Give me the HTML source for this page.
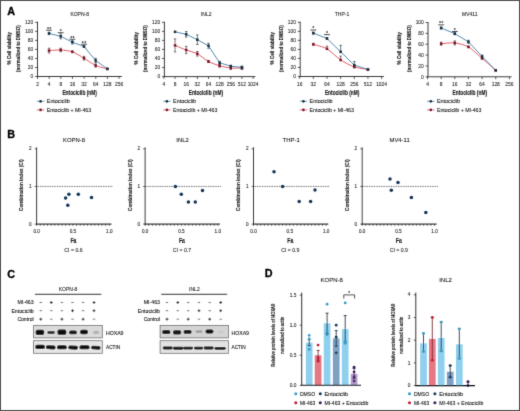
<!DOCTYPE html>
<html><head><meta charset="utf-8"><style>
html,body{margin:0;padding:0;background:#fff;}
body{width:520px;height:411px;overflow:hidden;}
svg{display:block;font-family:"Liberation Sans", sans-serif;}
</style></head><body>
<svg width="520" height="411" viewBox="0 0 520 411">
<defs><filter id="gb" x="0" y="0" width="520" height="411" filterUnits="userSpaceOnUse"><feConvolveMatrix order="3" kernelMatrix="0.0113 0.0838 0.0113 0.0838 0.6193 0.0838 0.0113 0.0838 0.0113" edgeMode="duplicate"/></filter></defs>
<rect width="520" height="411" fill="#fff"/>
<g filter="url(#gb)">
<text x="7.2" y="14.9" font-size="10.8" font-weight="bold" fill="#000" stroke="#000" stroke-width="0.3">A</text>
<text x="7.3" y="137.6" font-size="10.8" font-weight="bold" fill="#000" stroke="#000" stroke-width="0.3">B</text>
<text x="7.3" y="277.5" font-size="10.8" font-weight="bold" fill="#000" stroke="#000" stroke-width="0.3">C</text>
<text x="264.7" y="277.2" font-size="10.8" font-weight="bold" fill="#000" stroke="#000" stroke-width="0.3">D</text>
<line x1="37.5" y1="21.8" x2="37.5" y2="76.9" stroke="#1a1a1a" stroke-width="0.85" stroke-linecap="butt"/>
<line x1="35.1" y1="76.5" x2="37.5" y2="76.5" stroke="#1a1a1a" stroke-width="0.7" stroke-linecap="butt"/>
<text x="33.3" y="78.22" font-size="4.9" text-anchor="end" font-weight="normal" fill="#3a3a3a" stroke="#3a3a3a" stroke-width="0.12">0</text>
<line x1="35.1" y1="67.47" x2="37.5" y2="67.47" stroke="#1a1a1a" stroke-width="0.7" stroke-linecap="butt"/>
<text x="33.3" y="69.18" font-size="4.9" text-anchor="end" font-weight="normal" fill="#3a3a3a" stroke="#3a3a3a" stroke-width="0.12">20</text>
<line x1="35.1" y1="58.43" x2="37.5" y2="58.43" stroke="#1a1a1a" stroke-width="0.7" stroke-linecap="butt"/>
<text x="33.3" y="60.15" font-size="4.9" text-anchor="end" font-weight="normal" fill="#3a3a3a" stroke="#3a3a3a" stroke-width="0.12">40</text>
<line x1="35.1" y1="49.4" x2="37.5" y2="49.4" stroke="#1a1a1a" stroke-width="0.7" stroke-linecap="butt"/>
<text x="33.3" y="51.12" font-size="4.9" text-anchor="end" font-weight="normal" fill="#3a3a3a" stroke="#3a3a3a" stroke-width="0.12">60</text>
<line x1="35.1" y1="40.37" x2="37.5" y2="40.37" stroke="#1a1a1a" stroke-width="0.7" stroke-linecap="butt"/>
<text x="33.3" y="42.08" font-size="4.9" text-anchor="end" font-weight="normal" fill="#3a3a3a" stroke="#3a3a3a" stroke-width="0.12">80</text>
<line x1="35.1" y1="31.33" x2="37.5" y2="31.33" stroke="#1a1a1a" stroke-width="0.7" stroke-linecap="butt"/>
<text x="33.3" y="33.05" font-size="4.9" text-anchor="end" font-weight="normal" fill="#3a3a3a" stroke="#3a3a3a" stroke-width="0.12">100</text>
<line x1="35.1" y1="22.3" x2="37.5" y2="22.3" stroke="#1a1a1a" stroke-width="0.7" stroke-linecap="butt"/>
<text x="33.3" y="24.01" font-size="4.9" text-anchor="end" font-weight="normal" fill="#3a3a3a" stroke="#3a3a3a" stroke-width="0.12">120</text>
<line x1="37.1" y1="76.5" x2="121.8" y2="76.5" stroke="#1a1a1a" stroke-width="0.85" stroke-linecap="butt"/>
<line x1="37.5" y1="76.5" x2="37.5" y2="78.9" stroke="#1a1a1a" stroke-width="0.7" stroke-linecap="butt"/>
<text x="37.5" y="85.81" font-size="4.9" text-anchor="middle" font-weight="normal" fill="#333" stroke="#333" stroke-width="0.12">2</text>
<line x1="49.15" y1="76.5" x2="49.15" y2="78.9" stroke="#1a1a1a" stroke-width="0.7" stroke-linecap="butt"/>
<text x="49.15" y="85.81" font-size="4.9" text-anchor="middle" font-weight="normal" fill="#333" stroke="#333" stroke-width="0.12">4</text>
<line x1="60.8" y1="76.5" x2="60.8" y2="78.9" stroke="#1a1a1a" stroke-width="0.7" stroke-linecap="butt"/>
<text x="60.8" y="85.81" font-size="4.9" text-anchor="middle" font-weight="normal" fill="#333" stroke="#333" stroke-width="0.12">8</text>
<line x1="72.45" y1="76.5" x2="72.45" y2="78.9" stroke="#1a1a1a" stroke-width="0.7" stroke-linecap="butt"/>
<text x="72.45" y="85.81" font-size="4.9" text-anchor="middle" font-weight="normal" fill="#333" stroke="#333" stroke-width="0.12">16</text>
<line x1="84.1" y1="76.5" x2="84.1" y2="78.9" stroke="#1a1a1a" stroke-width="0.7" stroke-linecap="butt"/>
<text x="84.1" y="85.81" font-size="4.9" text-anchor="middle" font-weight="normal" fill="#333" stroke="#333" stroke-width="0.12">32</text>
<line x1="95.75" y1="76.5" x2="95.75" y2="78.9" stroke="#1a1a1a" stroke-width="0.7" stroke-linecap="butt"/>
<text x="95.75" y="85.81" font-size="4.9" text-anchor="middle" font-weight="normal" fill="#333" stroke="#333" stroke-width="0.12">64</text>
<line x1="107.4" y1="76.5" x2="107.4" y2="78.9" stroke="#1a1a1a" stroke-width="0.7" stroke-linecap="butt"/>
<text x="107.4" y="85.81" font-size="4.9" text-anchor="middle" font-weight="normal" fill="#333" stroke="#333" stroke-width="0.12">128</text>
<line x1="119.05" y1="76.5" x2="119.05" y2="78.9" stroke="#1a1a1a" stroke-width="0.7" stroke-linecap="butt"/>
<text x="119.05" y="85.81" font-size="4.9" text-anchor="middle" font-weight="normal" fill="#333" stroke="#333" stroke-width="0.12">256</text>
<path d="M49.05,50.6 C50.41,50.53 57.98,49.86 60.7,50 C63.42,50.14 69.63,50.84 72.35,51.8 C75.07,52.76 81.28,56.6 84,58.2 C86.72,59.8 92.93,64.25 95.65,65.5 C98.37,66.75 105.94,68.5 107.3,68.9" fill="none" stroke="#d53e4c" stroke-width="0.85" stroke-linejoin="round"/>
<line x1="49.05" y1="48.2" x2="49.05" y2="50.6" stroke="#4a2a2e" stroke-width="0.65" stroke-linecap="butt"/>
<line x1="47.85" y1="48.2" x2="50.25" y2="48.2" stroke="#4a2a2e" stroke-width="0.65" stroke-linecap="butt"/>
<line x1="49.05" y1="50.6" x2="49.05" y2="53" stroke="#4a2a2e" stroke-width="0.65" stroke-linecap="butt"/>
<line x1="47.85" y1="53" x2="50.25" y2="53" stroke="#4a2a2e" stroke-width="0.65" stroke-linecap="butt"/>
<rect x="47.8" y="49.35" width="2.5" height="2.5" fill="#7e1726" stroke="none" stroke-width="0" rx="0"/>
<line x1="60.7" y1="48.3" x2="60.7" y2="50" stroke="#4a2a2e" stroke-width="0.65" stroke-linecap="butt"/>
<line x1="59.5" y1="48.3" x2="61.9" y2="48.3" stroke="#4a2a2e" stroke-width="0.65" stroke-linecap="butt"/>
<line x1="60.7" y1="50" x2="60.7" y2="51.7" stroke="#4a2a2e" stroke-width="0.65" stroke-linecap="butt"/>
<line x1="59.5" y1="51.7" x2="61.9" y2="51.7" stroke="#4a2a2e" stroke-width="0.65" stroke-linecap="butt"/>
<rect x="59.45" y="48.75" width="2.5" height="2.5" fill="#7e1726" stroke="none" stroke-width="0" rx="0"/>
<line x1="72.35" y1="51" x2="72.35" y2="51.8" stroke="#4a2a2e" stroke-width="0.65" stroke-linecap="butt"/>
<line x1="71.15" y1="51" x2="73.55" y2="51" stroke="#4a2a2e" stroke-width="0.65" stroke-linecap="butt"/>
<line x1="72.35" y1="51.8" x2="72.35" y2="52.6" stroke="#4a2a2e" stroke-width="0.65" stroke-linecap="butt"/>
<line x1="71.15" y1="52.6" x2="73.55" y2="52.6" stroke="#4a2a2e" stroke-width="0.65" stroke-linecap="butt"/>
<rect x="71.1" y="50.55" width="2.5" height="2.5" fill="#7e1726" stroke="none" stroke-width="0" rx="0"/>
<line x1="84" y1="56.4" x2="84" y2="58.2" stroke="#4a2a2e" stroke-width="0.65" stroke-linecap="butt"/>
<line x1="82.8" y1="56.4" x2="85.2" y2="56.4" stroke="#4a2a2e" stroke-width="0.65" stroke-linecap="butt"/>
<line x1="84" y1="58.2" x2="84" y2="60" stroke="#4a2a2e" stroke-width="0.65" stroke-linecap="butt"/>
<line x1="82.8" y1="60" x2="85.2" y2="60" stroke="#4a2a2e" stroke-width="0.65" stroke-linecap="butt"/>
<rect x="82.75" y="56.95" width="2.5" height="2.5" fill="#7e1726" stroke="none" stroke-width="0" rx="0"/>
<line x1="95.65" y1="63.9" x2="95.65" y2="65.5" stroke="#4a2a2e" stroke-width="0.65" stroke-linecap="butt"/>
<line x1="94.45" y1="63.9" x2="96.85" y2="63.9" stroke="#4a2a2e" stroke-width="0.65" stroke-linecap="butt"/>
<line x1="95.65" y1="65.5" x2="95.65" y2="67.1" stroke="#4a2a2e" stroke-width="0.65" stroke-linecap="butt"/>
<line x1="94.45" y1="67.1" x2="96.85" y2="67.1" stroke="#4a2a2e" stroke-width="0.65" stroke-linecap="butt"/>
<rect x="94.4" y="64.25" width="2.5" height="2.5" fill="#7e1726" stroke="none" stroke-width="0" rx="0"/>
<rect x="106.05" y="67.65" width="2.5" height="2.5" fill="#7e1726" stroke="none" stroke-width="0" rx="0"/>
<polyline points="49.05,33.4 60.7,36.3 72.35,42.2 84,46.5 95.65,60.5 107.3,68.9" fill="none" stroke="#3878a4" stroke-width="0.85" stroke-linejoin="round"/>
<line x1="49.05" y1="32.2" x2="49.05" y2="33.4" stroke="#26333d" stroke-width="0.65" stroke-linecap="butt"/>
<line x1="47.85" y1="32.2" x2="50.25" y2="32.2" stroke="#26333d" stroke-width="0.65" stroke-linecap="butt"/>
<line x1="49.05" y1="33.4" x2="49.05" y2="34.6" stroke="#26333d" stroke-width="0.65" stroke-linecap="butt"/>
<line x1="47.85" y1="34.6" x2="50.25" y2="34.6" stroke="#26333d" stroke-width="0.65" stroke-linecap="butt"/>
<rect x="47.8" y="32.15" width="2.5" height="2.5" fill="#172f40" stroke="none" stroke-width="0" rx="0"/>
<line x1="60.7" y1="33.8" x2="60.7" y2="36.3" stroke="#26333d" stroke-width="0.65" stroke-linecap="butt"/>
<line x1="59.5" y1="33.8" x2="61.9" y2="33.8" stroke="#26333d" stroke-width="0.65" stroke-linecap="butt"/>
<line x1="60.7" y1="36.3" x2="60.7" y2="38.8" stroke="#26333d" stroke-width="0.65" stroke-linecap="butt"/>
<line x1="59.5" y1="38.8" x2="61.9" y2="38.8" stroke="#26333d" stroke-width="0.65" stroke-linecap="butt"/>
<rect x="59.45" y="35.05" width="2.5" height="2.5" fill="#172f40" stroke="none" stroke-width="0" rx="0"/>
<line x1="72.35" y1="40.4" x2="72.35" y2="42.2" stroke="#26333d" stroke-width="0.65" stroke-linecap="butt"/>
<line x1="71.15" y1="40.4" x2="73.55" y2="40.4" stroke="#26333d" stroke-width="0.65" stroke-linecap="butt"/>
<line x1="72.35" y1="42.2" x2="72.35" y2="44" stroke="#26333d" stroke-width="0.65" stroke-linecap="butt"/>
<line x1="71.15" y1="44" x2="73.55" y2="44" stroke="#26333d" stroke-width="0.65" stroke-linecap="butt"/>
<rect x="71.1" y="40.95" width="2.5" height="2.5" fill="#172f40" stroke="none" stroke-width="0" rx="0"/>
<line x1="84" y1="45.7" x2="84" y2="46.5" stroke="#26333d" stroke-width="0.65" stroke-linecap="butt"/>
<line x1="82.8" y1="45.7" x2="85.2" y2="45.7" stroke="#26333d" stroke-width="0.65" stroke-linecap="butt"/>
<line x1="84" y1="46.5" x2="84" y2="47.3" stroke="#26333d" stroke-width="0.65" stroke-linecap="butt"/>
<line x1="82.8" y1="47.3" x2="85.2" y2="47.3" stroke="#26333d" stroke-width="0.65" stroke-linecap="butt"/>
<rect x="82.75" y="45.25" width="2.5" height="2.5" fill="#172f40" stroke="none" stroke-width="0" rx="0"/>
<line x1="95.65" y1="58.3" x2="95.65" y2="60.5" stroke="#26333d" stroke-width="0.65" stroke-linecap="butt"/>
<line x1="94.45" y1="58.3" x2="96.85" y2="58.3" stroke="#26333d" stroke-width="0.65" stroke-linecap="butt"/>
<line x1="95.65" y1="60.5" x2="95.65" y2="62.7" stroke="#26333d" stroke-width="0.65" stroke-linecap="butt"/>
<line x1="94.45" y1="62.7" x2="96.85" y2="62.7" stroke="#26333d" stroke-width="0.65" stroke-linecap="butt"/>
<rect x="94.4" y="59.25" width="2.5" height="2.5" fill="#172f40" stroke="none" stroke-width="0" rx="0"/>
<rect x="106.05" y="67.65" width="2.5" height="2.5" fill="#172f40" stroke="none" stroke-width="0" rx="0"/>
<line x1="46.15" y1="30.2" x2="51.95" y2="30.2" stroke="#1a1a1a" stroke-width="0.8" stroke-linecap="butt"/>
<text x="47.9" y="30.6" font-size="5.2" font-weight="bold" text-anchor="middle" fill="#1a1a1a">*</text>
<text x="50.2" y="30.6" font-size="5.2" font-weight="bold" text-anchor="middle" fill="#1a1a1a">*</text>
<line x1="57.8" y1="32.7" x2="63.6" y2="32.7" stroke="#1a1a1a" stroke-width="0.8" stroke-linecap="butt"/>
<text x="60.7" y="32.9" font-size="5.2" font-weight="bold" text-anchor="middle" fill="#1a1a1a">*</text>
<line x1="69.45" y1="39.2" x2="75.25" y2="39.2" stroke="#1a1a1a" stroke-width="0.8" stroke-linecap="butt"/>
<text x="71.2" y="40.1" font-size="5.2" font-weight="bold" text-anchor="middle" fill="#1a1a1a">*</text>
<text x="73.5" y="40.1" font-size="5.2" font-weight="bold" text-anchor="middle" fill="#1a1a1a">*</text>
<line x1="81.1" y1="44.2" x2="86.9" y2="44.2" stroke="#1a1a1a" stroke-width="0.8" stroke-linecap="butt"/>
<text x="82.85" y="45.2" font-size="5.2" font-weight="bold" text-anchor="middle" fill="#1a1a1a">*</text>
<text x="85.15" y="45.2" font-size="5.2" font-weight="bold" text-anchor="middle" fill="#1a1a1a">*</text>
<text x="79.7" y="16.25" font-size="5" text-anchor="middle" font-weight="normal" fill="#333" stroke="#333" stroke-width="0.12">KOPN-8</text>
<text x="79.6" y="95.19" font-size="7.4" text-anchor="middle" font-weight="bold" fill="#1e1e1e" textLength="34.4" lengthAdjust="spacingAndGlyphs" stroke="#1e1e1e" stroke-width="0.2">Entociclib (nM)</text>
<text transform="translate(10.89 48.3) rotate(-90)" x="0" y="0" font-size="5.7" text-anchor="middle" font-weight="bold" fill="#1e1e1e" textLength="32.4" lengthAdjust="spacingAndGlyphs" stroke="#1e1e1e" stroke-width="0.15">% Cell viability</text>
<text transform="translate(20.2 48.6) rotate(-90)" x="0" y="0" font-size="5.7" text-anchor="middle" font-weight="bold" fill="#1e1e1e" textLength="46.8" lengthAdjust="spacingAndGlyphs" stroke="#1e1e1e" stroke-width="0.15">(normalized to DMSO)</text>
<line x1="36.8" y1="101.3" x2="44.4" y2="101.3" stroke="#3878a4" stroke-width="0.7" stroke-linecap="butt"/>
<circle cx="40.6" cy="101.3" r="1.35" fill="#172f40" stroke="none" stroke-width="0"/>
<text x="46.8" y="103.16" font-size="5.3" text-anchor="start" font-weight="normal" fill="#262626" textLength="23" lengthAdjust="spacingAndGlyphs" stroke="#262626" stroke-width="0.12">Entociclib</text>
<line x1="36.8" y1="109.9" x2="44.4" y2="109.9" stroke="#d53e4c" stroke-width="0.7" stroke-linecap="butt"/>
<circle cx="40.6" cy="109.9" r="1.35" fill="#7e1726" stroke="none" stroke-width="0"/>
<text x="46.8" y="111.75" font-size="5.3" text-anchor="start" font-weight="normal" fill="#262626" textLength="44.3" lengthAdjust="spacingAndGlyphs" stroke="#262626" stroke-width="0.12">Entociclib + MI-463</text>
<line x1="164.4" y1="21.8" x2="164.4" y2="77" stroke="#1a1a1a" stroke-width="0.85" stroke-linecap="butt"/>
<line x1="162" y1="76.6" x2="164.4" y2="76.6" stroke="#1a1a1a" stroke-width="0.7" stroke-linecap="butt"/>
<text x="160.2" y="78.31" font-size="4.9" text-anchor="end" font-weight="normal" fill="#3a3a3a" stroke="#3a3a3a" stroke-width="0.12">0</text>
<line x1="162" y1="67.55" x2="164.4" y2="67.55" stroke="#1a1a1a" stroke-width="0.7" stroke-linecap="butt"/>
<text x="160.2" y="69.27" font-size="4.9" text-anchor="end" font-weight="normal" fill="#3a3a3a" stroke="#3a3a3a" stroke-width="0.12">20</text>
<line x1="162" y1="58.5" x2="164.4" y2="58.5" stroke="#1a1a1a" stroke-width="0.7" stroke-linecap="butt"/>
<text x="160.2" y="60.22" font-size="4.9" text-anchor="end" font-weight="normal" fill="#3a3a3a" stroke="#3a3a3a" stroke-width="0.12">40</text>
<line x1="162" y1="49.45" x2="164.4" y2="49.45" stroke="#1a1a1a" stroke-width="0.7" stroke-linecap="butt"/>
<text x="160.2" y="51.16" font-size="4.9" text-anchor="end" font-weight="normal" fill="#3a3a3a" stroke="#3a3a3a" stroke-width="0.12">60</text>
<line x1="162" y1="40.4" x2="164.4" y2="40.4" stroke="#1a1a1a" stroke-width="0.7" stroke-linecap="butt"/>
<text x="160.2" y="42.12" font-size="4.9" text-anchor="end" font-weight="normal" fill="#3a3a3a" stroke="#3a3a3a" stroke-width="0.12">80</text>
<line x1="162" y1="31.35" x2="164.4" y2="31.35" stroke="#1a1a1a" stroke-width="0.7" stroke-linecap="butt"/>
<text x="160.2" y="33.07" font-size="4.9" text-anchor="end" font-weight="normal" fill="#3a3a3a" stroke="#3a3a3a" stroke-width="0.12">100</text>
<line x1="162" y1="22.3" x2="164.4" y2="22.3" stroke="#1a1a1a" stroke-width="0.7" stroke-linecap="butt"/>
<text x="160.2" y="24.01" font-size="4.9" text-anchor="end" font-weight="normal" fill="#3a3a3a" stroke="#3a3a3a" stroke-width="0.12">120</text>
<line x1="164" y1="76.6" x2="255.3" y2="76.6" stroke="#1a1a1a" stroke-width="0.85" stroke-linecap="butt"/>
<line x1="163.9" y1="76.6" x2="163.9" y2="79" stroke="#1a1a1a" stroke-width="0.7" stroke-linecap="butt"/>
<text x="163.9" y="85.91" font-size="4.9" text-anchor="middle" font-weight="normal" fill="#333" stroke="#333" stroke-width="0.12">4</text>
<line x1="175.05" y1="76.6" x2="175.05" y2="79" stroke="#1a1a1a" stroke-width="0.7" stroke-linecap="butt"/>
<text x="175.05" y="85.91" font-size="4.9" text-anchor="middle" font-weight="normal" fill="#333" stroke="#333" stroke-width="0.12">8</text>
<line x1="186.2" y1="76.6" x2="186.2" y2="79" stroke="#1a1a1a" stroke-width="0.7" stroke-linecap="butt"/>
<text x="186.2" y="85.91" font-size="4.9" text-anchor="middle" font-weight="normal" fill="#333" stroke="#333" stroke-width="0.12">16</text>
<line x1="197.35" y1="76.6" x2="197.35" y2="79" stroke="#1a1a1a" stroke-width="0.7" stroke-linecap="butt"/>
<text x="197.35" y="85.91" font-size="4.9" text-anchor="middle" font-weight="normal" fill="#333" stroke="#333" stroke-width="0.12">32</text>
<line x1="208.5" y1="76.6" x2="208.5" y2="79" stroke="#1a1a1a" stroke-width="0.7" stroke-linecap="butt"/>
<text x="208.5" y="85.91" font-size="4.9" text-anchor="middle" font-weight="normal" fill="#333" stroke="#333" stroke-width="0.12">64</text>
<line x1="219.65" y1="76.6" x2="219.65" y2="79" stroke="#1a1a1a" stroke-width="0.7" stroke-linecap="butt"/>
<text x="219.65" y="85.91" font-size="4.9" text-anchor="middle" font-weight="normal" fill="#333" stroke="#333" stroke-width="0.12">128</text>
<line x1="230.8" y1="76.6" x2="230.8" y2="79" stroke="#1a1a1a" stroke-width="0.7" stroke-linecap="butt"/>
<text x="230.8" y="85.91" font-size="4.9" text-anchor="middle" font-weight="normal" fill="#333" stroke="#333" stroke-width="0.12">256</text>
<line x1="241.95" y1="76.6" x2="241.95" y2="79" stroke="#1a1a1a" stroke-width="0.7" stroke-linecap="butt"/>
<text x="241.95" y="85.91" font-size="4.9" text-anchor="middle" font-weight="normal" fill="#333" stroke="#333" stroke-width="0.12">512</text>
<line x1="253.1" y1="76.6" x2="253.1" y2="79" stroke="#1a1a1a" stroke-width="0.7" stroke-linecap="butt"/>
<text x="253.1" y="85.91" font-size="4.9" text-anchor="middle" font-weight="normal" fill="#333" stroke="#333" stroke-width="0.12">1024</text>
<path d="M175.05,45.4 C176.35,45.94 183.6,49.02 186.2,50 C188.8,50.98 194.75,52.46 197.35,53.8 C199.95,55.14 205.9,60.1 208.5,61.5 C211.1,62.9 217.05,65.04 219.65,65.8 C222.25,66.56 228.2,67.74 230.8,68 C233.4,68.26 240.65,68 241.95,68" fill="none" stroke="#d53e4c" stroke-width="0.85" stroke-linejoin="round"/>
<line x1="175.05" y1="38.9" x2="175.05" y2="45.4" stroke="#4a2a2e" stroke-width="0.65" stroke-linecap="butt"/>
<line x1="173.85" y1="38.9" x2="176.25" y2="38.9" stroke="#4a2a2e" stroke-width="0.65" stroke-linecap="butt"/>
<line x1="175.05" y1="45.4" x2="175.05" y2="51.9" stroke="#4a2a2e" stroke-width="0.65" stroke-linecap="butt"/>
<line x1="173.85" y1="51.9" x2="176.25" y2="51.9" stroke="#4a2a2e" stroke-width="0.65" stroke-linecap="butt"/>
<rect x="173.8" y="44.15" width="2.5" height="2.5" fill="#7e1726" stroke="none" stroke-width="0" rx="0"/>
<line x1="186.2" y1="46.4" x2="186.2" y2="50" stroke="#4a2a2e" stroke-width="0.65" stroke-linecap="butt"/>
<line x1="185" y1="46.4" x2="187.4" y2="46.4" stroke="#4a2a2e" stroke-width="0.65" stroke-linecap="butt"/>
<line x1="186.2" y1="50" x2="186.2" y2="53.6" stroke="#4a2a2e" stroke-width="0.65" stroke-linecap="butt"/>
<line x1="185" y1="53.6" x2="187.4" y2="53.6" stroke="#4a2a2e" stroke-width="0.65" stroke-linecap="butt"/>
<rect x="184.95" y="48.75" width="2.5" height="2.5" fill="#7e1726" stroke="none" stroke-width="0" rx="0"/>
<line x1="197.35" y1="51.5" x2="197.35" y2="53.8" stroke="#4a2a2e" stroke-width="0.65" stroke-linecap="butt"/>
<line x1="196.15" y1="51.5" x2="198.55" y2="51.5" stroke="#4a2a2e" stroke-width="0.65" stroke-linecap="butt"/>
<line x1="197.35" y1="53.8" x2="197.35" y2="56.1" stroke="#4a2a2e" stroke-width="0.65" stroke-linecap="butt"/>
<line x1="196.15" y1="56.1" x2="198.55" y2="56.1" stroke="#4a2a2e" stroke-width="0.65" stroke-linecap="butt"/>
<rect x="196.1" y="52.55" width="2.5" height="2.5" fill="#7e1726" stroke="none" stroke-width="0" rx="0"/>
<line x1="208.5" y1="60.5" x2="208.5" y2="61.5" stroke="#4a2a2e" stroke-width="0.65" stroke-linecap="butt"/>
<line x1="207.3" y1="60.5" x2="209.7" y2="60.5" stroke="#4a2a2e" stroke-width="0.65" stroke-linecap="butt"/>
<line x1="208.5" y1="61.5" x2="208.5" y2="62.5" stroke="#4a2a2e" stroke-width="0.65" stroke-linecap="butt"/>
<line x1="207.3" y1="62.5" x2="209.7" y2="62.5" stroke="#4a2a2e" stroke-width="0.65" stroke-linecap="butt"/>
<rect x="207.25" y="60.25" width="2.5" height="2.5" fill="#7e1726" stroke="none" stroke-width="0" rx="0"/>
<line x1="219.65" y1="64.4" x2="219.65" y2="65.8" stroke="#4a2a2e" stroke-width="0.65" stroke-linecap="butt"/>
<line x1="218.45" y1="64.4" x2="220.85" y2="64.4" stroke="#4a2a2e" stroke-width="0.65" stroke-linecap="butt"/>
<line x1="219.65" y1="65.8" x2="219.65" y2="67.2" stroke="#4a2a2e" stroke-width="0.65" stroke-linecap="butt"/>
<line x1="218.45" y1="67.2" x2="220.85" y2="67.2" stroke="#4a2a2e" stroke-width="0.65" stroke-linecap="butt"/>
<rect x="218.4" y="64.55" width="2.5" height="2.5" fill="#7e1726" stroke="none" stroke-width="0" rx="0"/>
<line x1="230.8" y1="66.6" x2="230.8" y2="68" stroke="#4a2a2e" stroke-width="0.65" stroke-linecap="butt"/>
<line x1="229.6" y1="66.6" x2="232" y2="66.6" stroke="#4a2a2e" stroke-width="0.65" stroke-linecap="butt"/>
<line x1="230.8" y1="68" x2="230.8" y2="69.4" stroke="#4a2a2e" stroke-width="0.65" stroke-linecap="butt"/>
<line x1="229.6" y1="69.4" x2="232" y2="69.4" stroke="#4a2a2e" stroke-width="0.65" stroke-linecap="butt"/>
<rect x="229.55" y="66.75" width="2.5" height="2.5" fill="#7e1726" stroke="none" stroke-width="0" rx="0"/>
<line x1="241.95" y1="66.6" x2="241.95" y2="68" stroke="#4a2a2e" stroke-width="0.65" stroke-linecap="butt"/>
<line x1="240.75" y1="66.6" x2="243.15" y2="66.6" stroke="#4a2a2e" stroke-width="0.65" stroke-linecap="butt"/>
<line x1="241.95" y1="68" x2="241.95" y2="69.4" stroke="#4a2a2e" stroke-width="0.65" stroke-linecap="butt"/>
<line x1="240.75" y1="69.4" x2="243.15" y2="69.4" stroke="#4a2a2e" stroke-width="0.65" stroke-linecap="butt"/>
<rect x="240.7" y="66.75" width="2.5" height="2.5" fill="#7e1726" stroke="none" stroke-width="0" rx="0"/>
<polyline points="175.05,31.8 186.2,34.3 197.35,39.7 208.5,45.8 219.65,62.8 230.8,66.2 241.95,67.4" fill="none" stroke="#3878a4" stroke-width="0.85" stroke-linejoin="round"/>
<rect x="173.8" y="30.55" width="2.5" height="2.5" fill="#172f40" stroke="none" stroke-width="0" rx="0"/>
<line x1="186.2" y1="31.5" x2="186.2" y2="34.3" stroke="#26333d" stroke-width="0.65" stroke-linecap="butt"/>
<line x1="185" y1="31.5" x2="187.4" y2="31.5" stroke="#26333d" stroke-width="0.65" stroke-linecap="butt"/>
<line x1="186.2" y1="34.3" x2="186.2" y2="37.1" stroke="#26333d" stroke-width="0.65" stroke-linecap="butt"/>
<line x1="185" y1="37.1" x2="187.4" y2="37.1" stroke="#26333d" stroke-width="0.65" stroke-linecap="butt"/>
<rect x="184.95" y="33.05" width="2.5" height="2.5" fill="#172f40" stroke="none" stroke-width="0" rx="0"/>
<line x1="197.35" y1="34.9" x2="197.35" y2="39.7" stroke="#26333d" stroke-width="0.65" stroke-linecap="butt"/>
<line x1="196.15" y1="34.9" x2="198.55" y2="34.9" stroke="#26333d" stroke-width="0.65" stroke-linecap="butt"/>
<line x1="197.35" y1="39.7" x2="197.35" y2="44.5" stroke="#26333d" stroke-width="0.65" stroke-linecap="butt"/>
<line x1="196.15" y1="44.5" x2="198.55" y2="44.5" stroke="#26333d" stroke-width="0.65" stroke-linecap="butt"/>
<rect x="196.1" y="38.45" width="2.5" height="2.5" fill="#172f40" stroke="none" stroke-width="0" rx="0"/>
<line x1="208.5" y1="43.3" x2="208.5" y2="45.8" stroke="#26333d" stroke-width="0.65" stroke-linecap="butt"/>
<line x1="207.3" y1="43.3" x2="209.7" y2="43.3" stroke="#26333d" stroke-width="0.65" stroke-linecap="butt"/>
<line x1="208.5" y1="45.8" x2="208.5" y2="48.3" stroke="#26333d" stroke-width="0.65" stroke-linecap="butt"/>
<line x1="207.3" y1="48.3" x2="209.7" y2="48.3" stroke="#26333d" stroke-width="0.65" stroke-linecap="butt"/>
<rect x="207.25" y="44.55" width="2.5" height="2.5" fill="#172f40" stroke="none" stroke-width="0" rx="0"/>
<line x1="219.65" y1="61.3" x2="219.65" y2="62.8" stroke="#26333d" stroke-width="0.65" stroke-linecap="butt"/>
<line x1="218.45" y1="61.3" x2="220.85" y2="61.3" stroke="#26333d" stroke-width="0.65" stroke-linecap="butt"/>
<line x1="219.65" y1="62.8" x2="219.65" y2="64.3" stroke="#26333d" stroke-width="0.65" stroke-linecap="butt"/>
<line x1="218.45" y1="64.3" x2="220.85" y2="64.3" stroke="#26333d" stroke-width="0.65" stroke-linecap="butt"/>
<rect x="218.4" y="61.55" width="2.5" height="2.5" fill="#172f40" stroke="none" stroke-width="0" rx="0"/>
<line x1="230.8" y1="65.2" x2="230.8" y2="66.2" stroke="#26333d" stroke-width="0.65" stroke-linecap="butt"/>
<line x1="229.6" y1="65.2" x2="232" y2="65.2" stroke="#26333d" stroke-width="0.65" stroke-linecap="butt"/>
<line x1="230.8" y1="66.2" x2="230.8" y2="67.2" stroke="#26333d" stroke-width="0.65" stroke-linecap="butt"/>
<line x1="229.6" y1="67.2" x2="232" y2="67.2" stroke="#26333d" stroke-width="0.65" stroke-linecap="butt"/>
<rect x="229.55" y="64.95" width="2.5" height="2.5" fill="#172f40" stroke="none" stroke-width="0" rx="0"/>
<line x1="241.95" y1="66.1" x2="241.95" y2="67.4" stroke="#26333d" stroke-width="0.65" stroke-linecap="butt"/>
<line x1="240.75" y1="66.1" x2="243.15" y2="66.1" stroke="#26333d" stroke-width="0.65" stroke-linecap="butt"/>
<line x1="241.95" y1="67.4" x2="241.95" y2="68.7" stroke="#26333d" stroke-width="0.65" stroke-linecap="butt"/>
<line x1="240.75" y1="68.7" x2="243.15" y2="68.7" stroke="#26333d" stroke-width="0.65" stroke-linecap="butt"/>
<rect x="240.7" y="66.15" width="2.5" height="2.5" fill="#172f40" stroke="none" stroke-width="0" rx="0"/>
<text x="206.2" y="16.25" font-size="5" text-anchor="middle" font-weight="normal" fill="#333" stroke="#333" stroke-width="0.12">INL2</text>
<text x="205.9" y="95.19" font-size="7.4" text-anchor="middle" font-weight="bold" fill="#1e1e1e" textLength="34.4" lengthAdjust="spacingAndGlyphs" stroke="#1e1e1e" stroke-width="0.2">Entociclib (nM)</text>
<text transform="translate(137.8 48.3) rotate(-90)" x="0" y="0" font-size="5.7" text-anchor="middle" font-weight="bold" fill="#1e1e1e" textLength="32.4" lengthAdjust="spacingAndGlyphs" stroke="#1e1e1e" stroke-width="0.15">% Cell viability</text>
<text transform="translate(147.09 48.6) rotate(-90)" x="0" y="0" font-size="5.7" text-anchor="middle" font-weight="bold" fill="#1e1e1e" textLength="46.8" lengthAdjust="spacingAndGlyphs" stroke="#1e1e1e" stroke-width="0.15">(normalized to DMSO)</text>
<line x1="163.1" y1="101.3" x2="170.7" y2="101.3" stroke="#3878a4" stroke-width="0.7" stroke-linecap="butt"/>
<circle cx="166.9" cy="101.3" r="1.35" fill="#172f40" stroke="none" stroke-width="0"/>
<text x="173.1" y="103.16" font-size="5.3" text-anchor="start" font-weight="normal" fill="#262626" textLength="23" lengthAdjust="spacingAndGlyphs" stroke="#262626" stroke-width="0.12">Entociclib</text>
<line x1="163.1" y1="109.9" x2="170.7" y2="109.9" stroke="#d53e4c" stroke-width="0.7" stroke-linecap="butt"/>
<circle cx="166.9" cy="109.9" r="1.35" fill="#7e1726" stroke="none" stroke-width="0"/>
<text x="173.1" y="111.75" font-size="5.3" text-anchor="start" font-weight="normal" fill="#262626" textLength="44.3" lengthAdjust="spacingAndGlyphs" stroke="#262626" stroke-width="0.12">Entociclib + MI-463</text>
<line x1="300.2" y1="21.8" x2="300.2" y2="76.9" stroke="#1a1a1a" stroke-width="0.85" stroke-linecap="butt"/>
<line x1="297.8" y1="76.5" x2="300.2" y2="76.5" stroke="#1a1a1a" stroke-width="0.7" stroke-linecap="butt"/>
<text x="296" y="78.22" font-size="4.9" text-anchor="end" font-weight="normal" fill="#3a3a3a" stroke="#3a3a3a" stroke-width="0.12">0</text>
<line x1="297.8" y1="67.47" x2="300.2" y2="67.47" stroke="#1a1a1a" stroke-width="0.7" stroke-linecap="butt"/>
<text x="296" y="69.18" font-size="4.9" text-anchor="end" font-weight="normal" fill="#3a3a3a" stroke="#3a3a3a" stroke-width="0.12">20</text>
<line x1="297.8" y1="58.43" x2="300.2" y2="58.43" stroke="#1a1a1a" stroke-width="0.7" stroke-linecap="butt"/>
<text x="296" y="60.15" font-size="4.9" text-anchor="end" font-weight="normal" fill="#3a3a3a" stroke="#3a3a3a" stroke-width="0.12">40</text>
<line x1="297.8" y1="49.4" x2="300.2" y2="49.4" stroke="#1a1a1a" stroke-width="0.7" stroke-linecap="butt"/>
<text x="296" y="51.12" font-size="4.9" text-anchor="end" font-weight="normal" fill="#3a3a3a" stroke="#3a3a3a" stroke-width="0.12">60</text>
<line x1="297.8" y1="40.37" x2="300.2" y2="40.37" stroke="#1a1a1a" stroke-width="0.7" stroke-linecap="butt"/>
<text x="296" y="42.08" font-size="4.9" text-anchor="end" font-weight="normal" fill="#3a3a3a" stroke="#3a3a3a" stroke-width="0.12">80</text>
<line x1="297.8" y1="31.33" x2="300.2" y2="31.33" stroke="#1a1a1a" stroke-width="0.7" stroke-linecap="butt"/>
<text x="296" y="33.05" font-size="4.9" text-anchor="end" font-weight="normal" fill="#3a3a3a" stroke="#3a3a3a" stroke-width="0.12">100</text>
<line x1="297.8" y1="22.3" x2="300.2" y2="22.3" stroke="#1a1a1a" stroke-width="0.7" stroke-linecap="butt"/>
<text x="296" y="24.01" font-size="4.9" text-anchor="end" font-weight="normal" fill="#3a3a3a" stroke="#3a3a3a" stroke-width="0.12">120</text>
<line x1="299.8" y1="76.5" x2="383.8" y2="76.5" stroke="#1a1a1a" stroke-width="0.85" stroke-linecap="butt"/>
<line x1="299.7" y1="76.5" x2="299.7" y2="78.9" stroke="#1a1a1a" stroke-width="0.7" stroke-linecap="butt"/>
<text x="299.7" y="85.81" font-size="4.9" text-anchor="middle" font-weight="normal" fill="#333" stroke="#333" stroke-width="0.12">16</text>
<line x1="313.35" y1="76.5" x2="313.35" y2="78.9" stroke="#1a1a1a" stroke-width="0.7" stroke-linecap="butt"/>
<text x="313.35" y="85.81" font-size="4.9" text-anchor="middle" font-weight="normal" fill="#333" stroke="#333" stroke-width="0.12">32</text>
<line x1="327" y1="76.5" x2="327" y2="78.9" stroke="#1a1a1a" stroke-width="0.7" stroke-linecap="butt"/>
<text x="327" y="85.81" font-size="4.9" text-anchor="middle" font-weight="normal" fill="#333" stroke="#333" stroke-width="0.12">64</text>
<line x1="340.65" y1="76.5" x2="340.65" y2="78.9" stroke="#1a1a1a" stroke-width="0.7" stroke-linecap="butt"/>
<text x="340.65" y="85.81" font-size="4.9" text-anchor="middle" font-weight="normal" fill="#333" stroke="#333" stroke-width="0.12">128</text>
<line x1="354.3" y1="76.5" x2="354.3" y2="78.9" stroke="#1a1a1a" stroke-width="0.7" stroke-linecap="butt"/>
<text x="354.3" y="85.81" font-size="4.9" text-anchor="middle" font-weight="normal" fill="#333" stroke="#333" stroke-width="0.12">256</text>
<line x1="367.95" y1="76.5" x2="367.95" y2="78.9" stroke="#1a1a1a" stroke-width="0.7" stroke-linecap="butt"/>
<text x="367.95" y="85.81" font-size="4.9" text-anchor="middle" font-weight="normal" fill="#333" stroke="#333" stroke-width="0.12">512</text>
<line x1="381.6" y1="76.5" x2="381.6" y2="78.9" stroke="#1a1a1a" stroke-width="0.7" stroke-linecap="butt"/>
<text x="381.6" y="85.81" font-size="4.9" text-anchor="middle" font-weight="normal" fill="#333" stroke="#333" stroke-width="0.12">1024</text>
<path d="M313.35,44.3 C314.94,44.82 323.81,46.97 327,48.8 C330.19,50.63 337.46,57.89 340.65,60 C343.83,62.11 351.12,65.79 354.3,66.9 C357.49,68.01 366.36,69.2 367.95,69.5" fill="none" stroke="#d53e4c" stroke-width="0.85" stroke-linejoin="round"/>
<line x1="313.35" y1="43.3" x2="313.35" y2="44.3" stroke="#4a2a2e" stroke-width="0.65" stroke-linecap="butt"/>
<line x1="312.15" y1="43.3" x2="314.55" y2="43.3" stroke="#4a2a2e" stroke-width="0.65" stroke-linecap="butt"/>
<line x1="313.35" y1="44.3" x2="313.35" y2="45.3" stroke="#4a2a2e" stroke-width="0.65" stroke-linecap="butt"/>
<line x1="312.15" y1="45.3" x2="314.55" y2="45.3" stroke="#4a2a2e" stroke-width="0.65" stroke-linecap="butt"/>
<rect x="312.1" y="43.05" width="2.5" height="2.5" fill="#7e1726" stroke="none" stroke-width="0" rx="0"/>
<line x1="327" y1="46.2" x2="327" y2="48.8" stroke="#4a2a2e" stroke-width="0.65" stroke-linecap="butt"/>
<line x1="325.8" y1="46.2" x2="328.2" y2="46.2" stroke="#4a2a2e" stroke-width="0.65" stroke-linecap="butt"/>
<rect x="325.75" y="47.55" width="2.5" height="2.5" fill="#7e1726" stroke="none" stroke-width="0" rx="0"/>
<line x1="340.65" y1="56.2" x2="340.65" y2="60" stroke="#4a2a2e" stroke-width="0.65" stroke-linecap="butt"/>
<line x1="339.45" y1="56.2" x2="341.85" y2="56.2" stroke="#4a2a2e" stroke-width="0.65" stroke-linecap="butt"/>
<rect x="339.4" y="58.75" width="2.5" height="2.5" fill="#7e1726" stroke="none" stroke-width="0" rx="0"/>
<line x1="354.3" y1="65.9" x2="354.3" y2="66.9" stroke="#4a2a2e" stroke-width="0.65" stroke-linecap="butt"/>
<line x1="353.1" y1="65.9" x2="355.5" y2="65.9" stroke="#4a2a2e" stroke-width="0.65" stroke-linecap="butt"/>
<line x1="354.3" y1="66.9" x2="354.3" y2="67.9" stroke="#4a2a2e" stroke-width="0.65" stroke-linecap="butt"/>
<line x1="353.1" y1="67.9" x2="355.5" y2="67.9" stroke="#4a2a2e" stroke-width="0.65" stroke-linecap="butt"/>
<rect x="353.05" y="65.65" width="2.5" height="2.5" fill="#7e1726" stroke="none" stroke-width="0" rx="0"/>
<rect x="366.7" y="68.25" width="2.5" height="2.5" fill="#7e1726" stroke="none" stroke-width="0" rx="0"/>
<polyline points="313.35,33.1 327,38.5 340.65,51.8 354.3,65.1 367.95,69.5" fill="none" stroke="#3878a4" stroke-width="0.85" stroke-linejoin="round"/>
<line x1="313.35" y1="32.1" x2="313.35" y2="33.1" stroke="#26333d" stroke-width="0.65" stroke-linecap="butt"/>
<line x1="312.15" y1="32.1" x2="314.55" y2="32.1" stroke="#26333d" stroke-width="0.65" stroke-linecap="butt"/>
<line x1="313.35" y1="33.1" x2="313.35" y2="34.1" stroke="#26333d" stroke-width="0.65" stroke-linecap="butt"/>
<line x1="312.15" y1="34.1" x2="314.55" y2="34.1" stroke="#26333d" stroke-width="0.65" stroke-linecap="butt"/>
<rect x="312.1" y="31.85" width="2.5" height="2.5" fill="#172f40" stroke="none" stroke-width="0" rx="0"/>
<line x1="327" y1="37.5" x2="327" y2="38.5" stroke="#26333d" stroke-width="0.65" stroke-linecap="butt"/>
<line x1="325.8" y1="37.5" x2="328.2" y2="37.5" stroke="#26333d" stroke-width="0.65" stroke-linecap="butt"/>
<line x1="327" y1="38.5" x2="327" y2="39.5" stroke="#26333d" stroke-width="0.65" stroke-linecap="butt"/>
<line x1="325.8" y1="39.5" x2="328.2" y2="39.5" stroke="#26333d" stroke-width="0.65" stroke-linecap="butt"/>
<rect x="325.75" y="37.25" width="2.5" height="2.5" fill="#172f40" stroke="none" stroke-width="0" rx="0"/>
<line x1="340.65" y1="45.4" x2="340.65" y2="51.8" stroke="#26333d" stroke-width="0.65" stroke-linecap="butt"/>
<line x1="339.45" y1="45.4" x2="341.85" y2="45.4" stroke="#26333d" stroke-width="0.65" stroke-linecap="butt"/>
<rect x="339.4" y="50.55" width="2.5" height="2.5" fill="#172f40" stroke="none" stroke-width="0" rx="0"/>
<line x1="354.3" y1="61.5" x2="354.3" y2="65.1" stroke="#26333d" stroke-width="0.65" stroke-linecap="butt"/>
<line x1="353.1" y1="61.5" x2="355.5" y2="61.5" stroke="#26333d" stroke-width="0.65" stroke-linecap="butt"/>
<rect x="353.05" y="63.85" width="2.5" height="2.5" fill="#172f40" stroke="none" stroke-width="0" rx="0"/>
<rect x="366.7" y="68.25" width="2.5" height="2.5" fill="#172f40" stroke="none" stroke-width="0" rx="0"/>
<line x1="310.45" y1="30" x2="316.25" y2="30" stroke="#1a1a1a" stroke-width="0.8" stroke-linecap="butt"/>
<text x="313.35" y="30.2" font-size="5.2" font-weight="bold" text-anchor="middle" fill="#1a1a1a">*</text>
<line x1="324.1" y1="34.6" x2="329.9" y2="34.6" stroke="#1a1a1a" stroke-width="0.8" stroke-linecap="butt"/>
<text x="327" y="34.8" font-size="5.2" font-weight="bold" text-anchor="middle" fill="#1a1a1a">*</text>
<text x="342" y="16.25" font-size="5" text-anchor="middle" font-weight="normal" fill="#333" stroke="#333" stroke-width="0.12">THP-1</text>
<text x="342.1" y="95.19" font-size="7.4" text-anchor="middle" font-weight="bold" fill="#1e1e1e" textLength="34.4" lengthAdjust="spacingAndGlyphs" stroke="#1e1e1e" stroke-width="0.2">Entociclib (nM)</text>
<text transform="translate(273.59 48.3) rotate(-90)" x="0" y="0" font-size="5.7" text-anchor="middle" font-weight="bold" fill="#1e1e1e" textLength="32.4" lengthAdjust="spacingAndGlyphs" stroke="#1e1e1e" stroke-width="0.15">% Cell viability</text>
<text transform="translate(282.89 48.6) rotate(-90)" x="0" y="0" font-size="5.7" text-anchor="middle" font-weight="bold" fill="#1e1e1e" textLength="46.8" lengthAdjust="spacingAndGlyphs" stroke="#1e1e1e" stroke-width="0.15">(normalized to DMSO)</text>
<line x1="299.6" y1="101.3" x2="307.2" y2="101.3" stroke="#3878a4" stroke-width="0.7" stroke-linecap="butt"/>
<circle cx="303.4" cy="101.3" r="1.35" fill="#172f40" stroke="none" stroke-width="0"/>
<text x="309.6" y="103.16" font-size="5.3" text-anchor="start" font-weight="normal" fill="#262626" textLength="23" lengthAdjust="spacingAndGlyphs" stroke="#262626" stroke-width="0.12">Entociclib</text>
<line x1="299.6" y1="109.9" x2="307.2" y2="109.9" stroke="#d53e4c" stroke-width="0.7" stroke-linecap="butt"/>
<circle cx="303.4" cy="109.9" r="1.35" fill="#7e1726" stroke="none" stroke-width="0"/>
<text x="309.6" y="111.75" font-size="5.3" text-anchor="start" font-weight="normal" fill="#262626" textLength="44.3" lengthAdjust="spacingAndGlyphs" stroke="#262626" stroke-width="0.12">Entociclib + MI-463</text>
<line x1="428" y1="22" x2="428" y2="77.2" stroke="#1a1a1a" stroke-width="0.85" stroke-linecap="butt"/>
<line x1="425.6" y1="76.8" x2="428" y2="76.8" stroke="#1a1a1a" stroke-width="0.7" stroke-linecap="butt"/>
<text x="423.8" y="78.52" font-size="4.9" text-anchor="end" font-weight="normal" fill="#3a3a3a" stroke="#3a3a3a" stroke-width="0.12">0</text>
<line x1="425.6" y1="65.94" x2="428" y2="65.94" stroke="#1a1a1a" stroke-width="0.7" stroke-linecap="butt"/>
<text x="423.8" y="67.66" font-size="4.9" text-anchor="end" font-weight="normal" fill="#3a3a3a" stroke="#3a3a3a" stroke-width="0.12">20</text>
<line x1="425.6" y1="55.08" x2="428" y2="55.08" stroke="#1a1a1a" stroke-width="0.7" stroke-linecap="butt"/>
<text x="423.8" y="56.8" font-size="4.9" text-anchor="end" font-weight="normal" fill="#3a3a3a" stroke="#3a3a3a" stroke-width="0.12">40</text>
<line x1="425.6" y1="44.22" x2="428" y2="44.22" stroke="#1a1a1a" stroke-width="0.7" stroke-linecap="butt"/>
<text x="423.8" y="45.94" font-size="4.9" text-anchor="end" font-weight="normal" fill="#3a3a3a" stroke="#3a3a3a" stroke-width="0.12">60</text>
<line x1="425.6" y1="33.36" x2="428" y2="33.36" stroke="#1a1a1a" stroke-width="0.7" stroke-linecap="butt"/>
<text x="423.8" y="35.08" font-size="4.9" text-anchor="end" font-weight="normal" fill="#3a3a3a" stroke="#3a3a3a" stroke-width="0.12">80</text>
<line x1="425.6" y1="22.5" x2="428" y2="22.5" stroke="#1a1a1a" stroke-width="0.7" stroke-linecap="butt"/>
<text x="423.8" y="24.22" font-size="4.9" text-anchor="end" font-weight="normal" fill="#3a3a3a" stroke="#3a3a3a" stroke-width="0.12">100</text>
<line x1="427.6" y1="76.8" x2="511.6" y2="76.8" stroke="#1a1a1a" stroke-width="0.85" stroke-linecap="butt"/>
<line x1="427.5" y1="76.8" x2="427.5" y2="79.2" stroke="#1a1a1a" stroke-width="0.7" stroke-linecap="butt"/>
<text x="427.5" y="86.11" font-size="4.9" text-anchor="middle" font-weight="normal" fill="#333" stroke="#333" stroke-width="0.12">4</text>
<line x1="441.15" y1="76.8" x2="441.15" y2="79.2" stroke="#1a1a1a" stroke-width="0.7" stroke-linecap="butt"/>
<text x="441.15" y="86.11" font-size="4.9" text-anchor="middle" font-weight="normal" fill="#333" stroke="#333" stroke-width="0.12">8</text>
<line x1="454.8" y1="76.8" x2="454.8" y2="79.2" stroke="#1a1a1a" stroke-width="0.7" stroke-linecap="butt"/>
<text x="454.8" y="86.11" font-size="4.9" text-anchor="middle" font-weight="normal" fill="#333" stroke="#333" stroke-width="0.12">16</text>
<line x1="468.45" y1="76.8" x2="468.45" y2="79.2" stroke="#1a1a1a" stroke-width="0.7" stroke-linecap="butt"/>
<text x="468.45" y="86.11" font-size="4.9" text-anchor="middle" font-weight="normal" fill="#333" stroke="#333" stroke-width="0.12">32</text>
<line x1="482.1" y1="76.8" x2="482.1" y2="79.2" stroke="#1a1a1a" stroke-width="0.7" stroke-linecap="butt"/>
<text x="482.1" y="86.11" font-size="4.9" text-anchor="middle" font-weight="normal" fill="#333" stroke="#333" stroke-width="0.12">64</text>
<line x1="495.75" y1="76.8" x2="495.75" y2="79.2" stroke="#1a1a1a" stroke-width="0.7" stroke-linecap="butt"/>
<text x="495.75" y="86.11" font-size="4.9" text-anchor="middle" font-weight="normal" fill="#333" stroke="#333" stroke-width="0.12">128</text>
<line x1="509.4" y1="76.8" x2="509.4" y2="79.2" stroke="#1a1a1a" stroke-width="0.7" stroke-linecap="butt"/>
<text x="509.4" y="86.11" font-size="4.9" text-anchor="middle" font-weight="normal" fill="#333" stroke="#333" stroke-width="0.12">256</text>
<path d="M441.15,43.7 C442.74,43.61 451.62,42.53 454.8,42.9 C457.99,43.27 465.26,45.1 468.45,46.9 C471.63,48.7 478.92,55.57 482.1,58.3 C485.29,61.03 494.16,68.9 495.75,70.3" fill="none" stroke="#d53e4c" stroke-width="0.85" stroke-linejoin="round"/>
<line x1="441.15" y1="42.2" x2="441.15" y2="43.7" stroke="#4a2a2e" stroke-width="0.65" stroke-linecap="butt"/>
<line x1="439.95" y1="42.2" x2="442.35" y2="42.2" stroke="#4a2a2e" stroke-width="0.65" stroke-linecap="butt"/>
<line x1="441.15" y1="43.7" x2="441.15" y2="45.2" stroke="#4a2a2e" stroke-width="0.65" stroke-linecap="butt"/>
<line x1="439.95" y1="45.2" x2="442.35" y2="45.2" stroke="#4a2a2e" stroke-width="0.65" stroke-linecap="butt"/>
<rect x="439.9" y="42.45" width="2.5" height="2.5" fill="#7e1726" stroke="none" stroke-width="0" rx="0"/>
<line x1="454.8" y1="40.9" x2="454.8" y2="42.9" stroke="#4a2a2e" stroke-width="0.65" stroke-linecap="butt"/>
<line x1="453.6" y1="40.9" x2="456" y2="40.9" stroke="#4a2a2e" stroke-width="0.65" stroke-linecap="butt"/>
<line x1="454.8" y1="42.9" x2="454.8" y2="44.9" stroke="#4a2a2e" stroke-width="0.65" stroke-linecap="butt"/>
<line x1="453.6" y1="44.9" x2="456" y2="44.9" stroke="#4a2a2e" stroke-width="0.65" stroke-linecap="butt"/>
<rect x="453.55" y="41.65" width="2.5" height="2.5" fill="#7e1726" stroke="none" stroke-width="0" rx="0"/>
<line x1="468.45" y1="46.1" x2="468.45" y2="46.9" stroke="#4a2a2e" stroke-width="0.65" stroke-linecap="butt"/>
<line x1="467.25" y1="46.1" x2="469.65" y2="46.1" stroke="#4a2a2e" stroke-width="0.65" stroke-linecap="butt"/>
<line x1="468.45" y1="46.9" x2="468.45" y2="47.7" stroke="#4a2a2e" stroke-width="0.65" stroke-linecap="butt"/>
<line x1="467.25" y1="47.7" x2="469.65" y2="47.7" stroke="#4a2a2e" stroke-width="0.65" stroke-linecap="butt"/>
<rect x="467.2" y="45.65" width="2.5" height="2.5" fill="#7e1726" stroke="none" stroke-width="0" rx="0"/>
<line x1="482.1" y1="57.5" x2="482.1" y2="58.3" stroke="#4a2a2e" stroke-width="0.65" stroke-linecap="butt"/>
<line x1="480.9" y1="57.5" x2="483.3" y2="57.5" stroke="#4a2a2e" stroke-width="0.65" stroke-linecap="butt"/>
<line x1="482.1" y1="58.3" x2="482.1" y2="59.1" stroke="#4a2a2e" stroke-width="0.65" stroke-linecap="butt"/>
<line x1="480.9" y1="59.1" x2="483.3" y2="59.1" stroke="#4a2a2e" stroke-width="0.65" stroke-linecap="butt"/>
<rect x="480.85" y="57.05" width="2.5" height="2.5" fill="#7e1726" stroke="none" stroke-width="0" rx="0"/>
<rect x="494.5" y="69.05" width="2.5" height="2.5" fill="#7e1726" stroke="none" stroke-width="0" rx="0"/>
<polyline points="441.15,28 454.8,33.7 468.45,41.8 482.1,56.5 495.75,70.3" fill="none" stroke="#3878a4" stroke-width="0.85" stroke-linejoin="round"/>
<line x1="441.15" y1="27" x2="441.15" y2="28" stroke="#26333d" stroke-width="0.65" stroke-linecap="butt"/>
<line x1="439.95" y1="27" x2="442.35" y2="27" stroke="#26333d" stroke-width="0.65" stroke-linecap="butt"/>
<line x1="441.15" y1="28" x2="441.15" y2="29" stroke="#26333d" stroke-width="0.65" stroke-linecap="butt"/>
<line x1="439.95" y1="29" x2="442.35" y2="29" stroke="#26333d" stroke-width="0.65" stroke-linecap="butt"/>
<rect x="439.9" y="26.75" width="2.5" height="2.5" fill="#172f40" stroke="none" stroke-width="0" rx="0"/>
<line x1="454.8" y1="32.7" x2="454.8" y2="33.7" stroke="#26333d" stroke-width="0.65" stroke-linecap="butt"/>
<line x1="453.6" y1="32.7" x2="456" y2="32.7" stroke="#26333d" stroke-width="0.65" stroke-linecap="butt"/>
<line x1="454.8" y1="33.7" x2="454.8" y2="34.7" stroke="#26333d" stroke-width="0.65" stroke-linecap="butt"/>
<line x1="453.6" y1="34.7" x2="456" y2="34.7" stroke="#26333d" stroke-width="0.65" stroke-linecap="butt"/>
<rect x="453.55" y="32.45" width="2.5" height="2.5" fill="#172f40" stroke="none" stroke-width="0" rx="0"/>
<line x1="468.45" y1="40.3" x2="468.45" y2="41.8" stroke="#26333d" stroke-width="0.65" stroke-linecap="butt"/>
<line x1="467.25" y1="40.3" x2="469.65" y2="40.3" stroke="#26333d" stroke-width="0.65" stroke-linecap="butt"/>
<line x1="468.45" y1="41.8" x2="468.45" y2="43.3" stroke="#26333d" stroke-width="0.65" stroke-linecap="butt"/>
<line x1="467.25" y1="43.3" x2="469.65" y2="43.3" stroke="#26333d" stroke-width="0.65" stroke-linecap="butt"/>
<rect x="467.2" y="40.55" width="2.5" height="2.5" fill="#172f40" stroke="none" stroke-width="0" rx="0"/>
<line x1="482.1" y1="55" x2="482.1" y2="56.5" stroke="#26333d" stroke-width="0.65" stroke-linecap="butt"/>
<line x1="480.9" y1="55" x2="483.3" y2="55" stroke="#26333d" stroke-width="0.65" stroke-linecap="butt"/>
<line x1="482.1" y1="56.5" x2="482.1" y2="58" stroke="#26333d" stroke-width="0.65" stroke-linecap="butt"/>
<line x1="480.9" y1="58" x2="483.3" y2="58" stroke="#26333d" stroke-width="0.65" stroke-linecap="butt"/>
<rect x="480.85" y="55.25" width="2.5" height="2.5" fill="#172f40" stroke="none" stroke-width="0" rx="0"/>
<rect x="494.5" y="69.05" width="2.5" height="2.5" fill="#172f40" stroke="none" stroke-width="0" rx="0"/>
<line x1="438.25" y1="24.9" x2="444.05" y2="24.9" stroke="#1a1a1a" stroke-width="0.8" stroke-linecap="butt"/>
<text x="440" y="25.1" font-size="5.2" font-weight="bold" text-anchor="middle" fill="#1a1a1a">*</text>
<text x="442.3" y="25.1" font-size="5.2" font-weight="bold" text-anchor="middle" fill="#1a1a1a">*</text>
<line x1="451.9" y1="31.5" x2="457.7" y2="31.5" stroke="#1a1a1a" stroke-width="0.8" stroke-linecap="butt"/>
<text x="454.8" y="32.1" font-size="5.2" font-weight="bold" text-anchor="middle" fill="#1a1a1a">*</text>
<text x="469.8" y="16.25" font-size="5" text-anchor="middle" font-weight="normal" fill="#333" stroke="#333" stroke-width="0.12">MV411</text>
<text x="469.8" y="95.19" font-size="7.4" text-anchor="middle" font-weight="bold" fill="#1e1e1e" textLength="34.4" lengthAdjust="spacingAndGlyphs" stroke="#1e1e1e" stroke-width="0.2">Entociclib (nM)</text>
<text transform="translate(401.39 48.3) rotate(-90)" x="0" y="0" font-size="5.7" text-anchor="middle" font-weight="bold" fill="#1e1e1e" textLength="32.4" lengthAdjust="spacingAndGlyphs" stroke="#1e1e1e" stroke-width="0.15">% Cell viability</text>
<text transform="translate(410.69 48.6) rotate(-90)" x="0" y="0" font-size="5.7" text-anchor="middle" font-weight="bold" fill="#1e1e1e" textLength="46.8" lengthAdjust="spacingAndGlyphs" stroke="#1e1e1e" stroke-width="0.15">(normalized to DMSO)</text>
<line x1="427" y1="101.3" x2="434.6" y2="101.3" stroke="#3878a4" stroke-width="0.7" stroke-linecap="butt"/>
<circle cx="430.8" cy="101.3" r="1.35" fill="#172f40" stroke="none" stroke-width="0"/>
<text x="437" y="103.16" font-size="5.3" text-anchor="start" font-weight="normal" fill="#262626" textLength="23" lengthAdjust="spacingAndGlyphs" stroke="#262626" stroke-width="0.12">Entociclib</text>
<line x1="427" y1="109.9" x2="434.6" y2="109.9" stroke="#d53e4c" stroke-width="0.7" stroke-linecap="butt"/>
<circle cx="430.8" cy="109.9" r="1.35" fill="#7e1726" stroke="none" stroke-width="0"/>
<text x="437" y="111.75" font-size="5.3" text-anchor="start" font-weight="normal" fill="#262626" textLength="44.3" lengthAdjust="spacingAndGlyphs" stroke="#262626" stroke-width="0.12">Entociclib + MI-463</text>
<line x1="36.6" y1="147.3" x2="36.6" y2="224.5" stroke="#1a1a1a" stroke-width="0.85" stroke-linecap="butt"/>
<line x1="34.6" y1="224.1" x2="36.6" y2="224.1" stroke="#1a1a1a" stroke-width="0.6" stroke-linecap="butt"/>
<text x="30.3" y="225.71" font-size="4.6" text-anchor="middle" font-weight="normal" fill="#333" stroke="#333" stroke-width="0.12">0</text>
<line x1="34.6" y1="186.45" x2="36.6" y2="186.45" stroke="#1a1a1a" stroke-width="0.6" stroke-linecap="butt"/>
<text x="30.3" y="188.06" font-size="4.6" text-anchor="middle" font-weight="normal" fill="#333" stroke="#333" stroke-width="0.12">1</text>
<line x1="34.6" y1="148.8" x2="36.6" y2="148.8" stroke="#1a1a1a" stroke-width="0.6" stroke-linecap="butt"/>
<text x="30.3" y="150.41" font-size="4.6" text-anchor="middle" font-weight="normal" fill="#333" stroke="#333" stroke-width="0.12">2</text>
<line x1="36.2" y1="224.1" x2="111.48" y2="224.1" stroke="#111" stroke-width="1.0" stroke-linecap="butt"/>
<line x1="36.6" y1="224.1" x2="36.6" y2="225.8" stroke="#111" stroke-width="0.6" stroke-linecap="butt"/>
<line x1="40.23" y1="224.1" x2="40.23" y2="225.8" stroke="#111" stroke-width="0.6" stroke-linecap="butt"/>
<line x1="43.87" y1="224.1" x2="43.87" y2="225.8" stroke="#111" stroke-width="0.6" stroke-linecap="butt"/>
<line x1="47.51" y1="224.1" x2="47.51" y2="225.8" stroke="#111" stroke-width="0.6" stroke-linecap="butt"/>
<line x1="51.14" y1="224.1" x2="51.14" y2="225.8" stroke="#111" stroke-width="0.6" stroke-linecap="butt"/>
<line x1="54.77" y1="224.1" x2="54.77" y2="225.8" stroke="#111" stroke-width="0.6" stroke-linecap="butt"/>
<line x1="58.41" y1="224.1" x2="58.41" y2="225.8" stroke="#111" stroke-width="0.6" stroke-linecap="butt"/>
<line x1="62.05" y1="224.1" x2="62.05" y2="225.8" stroke="#111" stroke-width="0.6" stroke-linecap="butt"/>
<line x1="65.68" y1="224.1" x2="65.68" y2="225.8" stroke="#111" stroke-width="0.6" stroke-linecap="butt"/>
<line x1="69.31" y1="224.1" x2="69.31" y2="225.8" stroke="#111" stroke-width="0.6" stroke-linecap="butt"/>
<line x1="72.95" y1="224.1" x2="72.95" y2="225.8" stroke="#111" stroke-width="0.6" stroke-linecap="butt"/>
<line x1="76.59" y1="224.1" x2="76.59" y2="225.8" stroke="#111" stroke-width="0.6" stroke-linecap="butt"/>
<line x1="80.22" y1="224.1" x2="80.22" y2="225.8" stroke="#111" stroke-width="0.6" stroke-linecap="butt"/>
<line x1="83.85" y1="224.1" x2="83.85" y2="225.8" stroke="#111" stroke-width="0.6" stroke-linecap="butt"/>
<line x1="87.49" y1="224.1" x2="87.49" y2="225.8" stroke="#111" stroke-width="0.6" stroke-linecap="butt"/>
<line x1="91.12" y1="224.1" x2="91.12" y2="225.8" stroke="#111" stroke-width="0.6" stroke-linecap="butt"/>
<line x1="94.76" y1="224.1" x2="94.76" y2="225.8" stroke="#111" stroke-width="0.6" stroke-linecap="butt"/>
<line x1="98.39" y1="224.1" x2="98.39" y2="225.8" stroke="#111" stroke-width="0.6" stroke-linecap="butt"/>
<line x1="102.03" y1="224.1" x2="102.03" y2="225.8" stroke="#111" stroke-width="0.6" stroke-linecap="butt"/>
<line x1="105.66" y1="224.1" x2="105.66" y2="225.8" stroke="#111" stroke-width="0.6" stroke-linecap="butt"/>
<line x1="109.3" y1="224.1" x2="109.3" y2="225.8" stroke="#111" stroke-width="0.6" stroke-linecap="butt"/>
<text x="36.6" y="233.31" font-size="4.6" text-anchor="middle" font-weight="normal" fill="#333" stroke="#333" stroke-width="0.12">0.0</text>
<text x="72.95" y="233.31" font-size="4.6" text-anchor="middle" font-weight="normal" fill="#333" stroke="#333" stroke-width="0.12">0.5</text>
<text x="109.3" y="233.31" font-size="4.6" text-anchor="middle" font-weight="normal" fill="#333" stroke="#333" stroke-width="0.12">1.0</text>
<line x1="36.6" y1="186.45" x2="112.94" y2="186.45" stroke="#111" stroke-width="0.7" stroke-linecap="butt" stroke-dasharray="0.85,0.85"/>
<text x="73.45" y="242.75" font-size="7.0" text-anchor="middle" font-weight="bold" fill="#1e1e1e" textLength="6" lengthAdjust="spacingAndGlyphs" stroke="#1e1e1e" stroke-width="0.15">Fa</text>
<text transform="translate(23.19 185.2) rotate(-90)" x="0" y="0" font-size="5.4" text-anchor="middle" font-weight="bold" fill="#1e1e1e" textLength="51.5" lengthAdjust="spacingAndGlyphs" stroke="#1e1e1e" stroke-width="0.12">Combination index (CI)</text>
<text x="74" y="141.76" font-size="5.9" text-anchor="middle" font-weight="normal" fill="#2a2a2a" stroke="#2a2a2a" stroke-width="0.12">KOPN-8</text>
<text x="73.45" y="252.39" font-size="5.4" text-anchor="middle" font-weight="normal" fill="#333" textLength="18.3" lengthAdjust="spacingAndGlyphs" stroke="#333" stroke-width="0.12">CI = 0.6</text>
<circle cx="65.6" cy="197.9" r="1.75" fill="#133659" stroke="none" stroke-width="0"/>
<circle cx="68.9" cy="194.3" r="1.75" fill="#133659" stroke="none" stroke-width="0"/>
<circle cx="78.3" cy="194.3" r="1.75" fill="#133659" stroke="none" stroke-width="0"/>
<circle cx="67.8" cy="205.2" r="1.75" fill="#133659" stroke="none" stroke-width="0"/>
<circle cx="91.5" cy="197.4" r="1.75" fill="#133659" stroke="none" stroke-width="0"/>
<line x1="145.1" y1="147.3" x2="145.1" y2="224.5" stroke="#1a1a1a" stroke-width="0.85" stroke-linecap="butt"/>
<line x1="143.1" y1="224.1" x2="145.1" y2="224.1" stroke="#1a1a1a" stroke-width="0.6" stroke-linecap="butt"/>
<text x="138.8" y="225.71" font-size="4.6" text-anchor="middle" font-weight="normal" fill="#333" stroke="#333" stroke-width="0.12">0</text>
<line x1="143.1" y1="186.45" x2="145.1" y2="186.45" stroke="#1a1a1a" stroke-width="0.6" stroke-linecap="butt"/>
<text x="138.8" y="188.06" font-size="4.6" text-anchor="middle" font-weight="normal" fill="#333" stroke="#333" stroke-width="0.12">1</text>
<line x1="143.1" y1="148.8" x2="145.1" y2="148.8" stroke="#1a1a1a" stroke-width="0.6" stroke-linecap="butt"/>
<text x="138.8" y="150.41" font-size="4.6" text-anchor="middle" font-weight="normal" fill="#333" stroke="#333" stroke-width="0.12">2</text>
<line x1="144.7" y1="224.1" x2="219.98" y2="224.1" stroke="#111" stroke-width="1.0" stroke-linecap="butt"/>
<line x1="145.1" y1="224.1" x2="145.1" y2="225.8" stroke="#111" stroke-width="0.6" stroke-linecap="butt"/>
<line x1="148.73" y1="224.1" x2="148.73" y2="225.8" stroke="#111" stroke-width="0.6" stroke-linecap="butt"/>
<line x1="152.37" y1="224.1" x2="152.37" y2="225.8" stroke="#111" stroke-width="0.6" stroke-linecap="butt"/>
<line x1="156" y1="224.1" x2="156" y2="225.8" stroke="#111" stroke-width="0.6" stroke-linecap="butt"/>
<line x1="159.64" y1="224.1" x2="159.64" y2="225.8" stroke="#111" stroke-width="0.6" stroke-linecap="butt"/>
<line x1="163.28" y1="224.1" x2="163.28" y2="225.8" stroke="#111" stroke-width="0.6" stroke-linecap="butt"/>
<line x1="166.91" y1="224.1" x2="166.91" y2="225.8" stroke="#111" stroke-width="0.6" stroke-linecap="butt"/>
<line x1="170.55" y1="224.1" x2="170.55" y2="225.8" stroke="#111" stroke-width="0.6" stroke-linecap="butt"/>
<line x1="174.18" y1="224.1" x2="174.18" y2="225.8" stroke="#111" stroke-width="0.6" stroke-linecap="butt"/>
<line x1="177.81" y1="224.1" x2="177.81" y2="225.8" stroke="#111" stroke-width="0.6" stroke-linecap="butt"/>
<line x1="181.45" y1="224.1" x2="181.45" y2="225.8" stroke="#111" stroke-width="0.6" stroke-linecap="butt"/>
<line x1="185.09" y1="224.1" x2="185.09" y2="225.8" stroke="#111" stroke-width="0.6" stroke-linecap="butt"/>
<line x1="188.72" y1="224.1" x2="188.72" y2="225.8" stroke="#111" stroke-width="0.6" stroke-linecap="butt"/>
<line x1="192.36" y1="224.1" x2="192.36" y2="225.8" stroke="#111" stroke-width="0.6" stroke-linecap="butt"/>
<line x1="195.99" y1="224.1" x2="195.99" y2="225.8" stroke="#111" stroke-width="0.6" stroke-linecap="butt"/>
<line x1="199.62" y1="224.1" x2="199.62" y2="225.8" stroke="#111" stroke-width="0.6" stroke-linecap="butt"/>
<line x1="203.26" y1="224.1" x2="203.26" y2="225.8" stroke="#111" stroke-width="0.6" stroke-linecap="butt"/>
<line x1="206.9" y1="224.1" x2="206.9" y2="225.8" stroke="#111" stroke-width="0.6" stroke-linecap="butt"/>
<line x1="210.53" y1="224.1" x2="210.53" y2="225.8" stroke="#111" stroke-width="0.6" stroke-linecap="butt"/>
<line x1="214.17" y1="224.1" x2="214.17" y2="225.8" stroke="#111" stroke-width="0.6" stroke-linecap="butt"/>
<line x1="217.8" y1="224.1" x2="217.8" y2="225.8" stroke="#111" stroke-width="0.6" stroke-linecap="butt"/>
<text x="145.1" y="233.31" font-size="4.6" text-anchor="middle" font-weight="normal" fill="#333" stroke="#333" stroke-width="0.12">0.0</text>
<text x="181.45" y="233.31" font-size="4.6" text-anchor="middle" font-weight="normal" fill="#333" stroke="#333" stroke-width="0.12">0.5</text>
<text x="217.8" y="233.31" font-size="4.6" text-anchor="middle" font-weight="normal" fill="#333" stroke="#333" stroke-width="0.12">1.0</text>
<line x1="145.1" y1="186.45" x2="221.44" y2="186.45" stroke="#111" stroke-width="0.7" stroke-linecap="butt" stroke-dasharray="0.85,0.85"/>
<text x="181.95" y="242.75" font-size="7.0" text-anchor="middle" font-weight="bold" fill="#1e1e1e" textLength="6" lengthAdjust="spacingAndGlyphs" stroke="#1e1e1e" stroke-width="0.15">Fa</text>
<text transform="translate(131.69 185.2) rotate(-90)" x="0" y="0" font-size="5.4" text-anchor="middle" font-weight="bold" fill="#1e1e1e" textLength="51.5" lengthAdjust="spacingAndGlyphs" stroke="#1e1e1e" stroke-width="0.12">Combination index (CI)</text>
<text x="182.5" y="141.76" font-size="5.9" text-anchor="middle" font-weight="normal" fill="#2a2a2a" stroke="#2a2a2a" stroke-width="0.12">INL2</text>
<text x="181.95" y="252.39" font-size="5.4" text-anchor="middle" font-weight="normal" fill="#333" textLength="18.3" lengthAdjust="spacingAndGlyphs" stroke="#333" stroke-width="0.12">CI = 0.7</text>
<circle cx="175.4" cy="186.5" r="1.75" fill="#133659" stroke="none" stroke-width="0"/>
<circle cx="181.3" cy="194.2" r="1.75" fill="#133659" stroke="none" stroke-width="0"/>
<circle cx="188.4" cy="201.9" r="1.75" fill="#133659" stroke="none" stroke-width="0"/>
<circle cx="195.3" cy="201.9" r="1.75" fill="#133659" stroke="none" stroke-width="0"/>
<circle cx="202.5" cy="190.4" r="1.75" fill="#133659" stroke="none" stroke-width="0"/>
<line x1="253.5" y1="147.3" x2="253.5" y2="224.5" stroke="#1a1a1a" stroke-width="0.85" stroke-linecap="butt"/>
<line x1="251.5" y1="224.1" x2="253.5" y2="224.1" stroke="#1a1a1a" stroke-width="0.6" stroke-linecap="butt"/>
<text x="247.2" y="225.71" font-size="4.6" text-anchor="middle" font-weight="normal" fill="#333" stroke="#333" stroke-width="0.12">0</text>
<line x1="251.5" y1="186.45" x2="253.5" y2="186.45" stroke="#1a1a1a" stroke-width="0.6" stroke-linecap="butt"/>
<text x="247.2" y="188.06" font-size="4.6" text-anchor="middle" font-weight="normal" fill="#333" stroke="#333" stroke-width="0.12">1</text>
<line x1="251.5" y1="148.8" x2="253.5" y2="148.8" stroke="#1a1a1a" stroke-width="0.6" stroke-linecap="butt"/>
<text x="247.2" y="150.41" font-size="4.6" text-anchor="middle" font-weight="normal" fill="#333" stroke="#333" stroke-width="0.12">2</text>
<line x1="253.1" y1="224.1" x2="328.28" y2="224.1" stroke="#111" stroke-width="1.0" stroke-linecap="butt"/>
<line x1="253.5" y1="224.1" x2="253.5" y2="225.8" stroke="#111" stroke-width="0.6" stroke-linecap="butt"/>
<line x1="257.13" y1="224.1" x2="257.13" y2="225.8" stroke="#111" stroke-width="0.6" stroke-linecap="butt"/>
<line x1="260.76" y1="224.1" x2="260.76" y2="225.8" stroke="#111" stroke-width="0.6" stroke-linecap="butt"/>
<line x1="264.39" y1="224.1" x2="264.39" y2="225.8" stroke="#111" stroke-width="0.6" stroke-linecap="butt"/>
<line x1="268.02" y1="224.1" x2="268.02" y2="225.8" stroke="#111" stroke-width="0.6" stroke-linecap="butt"/>
<line x1="271.65" y1="224.1" x2="271.65" y2="225.8" stroke="#111" stroke-width="0.6" stroke-linecap="butt"/>
<line x1="275.28" y1="224.1" x2="275.28" y2="225.8" stroke="#111" stroke-width="0.6" stroke-linecap="butt"/>
<line x1="278.91" y1="224.1" x2="278.91" y2="225.8" stroke="#111" stroke-width="0.6" stroke-linecap="butt"/>
<line x1="282.54" y1="224.1" x2="282.54" y2="225.8" stroke="#111" stroke-width="0.6" stroke-linecap="butt"/>
<line x1="286.17" y1="224.1" x2="286.17" y2="225.8" stroke="#111" stroke-width="0.6" stroke-linecap="butt"/>
<line x1="289.8" y1="224.1" x2="289.8" y2="225.8" stroke="#111" stroke-width="0.6" stroke-linecap="butt"/>
<line x1="293.43" y1="224.1" x2="293.43" y2="225.8" stroke="#111" stroke-width="0.6" stroke-linecap="butt"/>
<line x1="297.06" y1="224.1" x2="297.06" y2="225.8" stroke="#111" stroke-width="0.6" stroke-linecap="butt"/>
<line x1="300.69" y1="224.1" x2="300.69" y2="225.8" stroke="#111" stroke-width="0.6" stroke-linecap="butt"/>
<line x1="304.32" y1="224.1" x2="304.32" y2="225.8" stroke="#111" stroke-width="0.6" stroke-linecap="butt"/>
<line x1="307.95" y1="224.1" x2="307.95" y2="225.8" stroke="#111" stroke-width="0.6" stroke-linecap="butt"/>
<line x1="311.58" y1="224.1" x2="311.58" y2="225.8" stroke="#111" stroke-width="0.6" stroke-linecap="butt"/>
<line x1="315.21" y1="224.1" x2="315.21" y2="225.8" stroke="#111" stroke-width="0.6" stroke-linecap="butt"/>
<line x1="318.84" y1="224.1" x2="318.84" y2="225.8" stroke="#111" stroke-width="0.6" stroke-linecap="butt"/>
<line x1="322.47" y1="224.1" x2="322.47" y2="225.8" stroke="#111" stroke-width="0.6" stroke-linecap="butt"/>
<line x1="326.1" y1="224.1" x2="326.1" y2="225.8" stroke="#111" stroke-width="0.6" stroke-linecap="butt"/>
<text x="253.5" y="233.31" font-size="4.6" text-anchor="middle" font-weight="normal" fill="#333" stroke="#333" stroke-width="0.12">0.0</text>
<text x="289.8" y="233.31" font-size="4.6" text-anchor="middle" font-weight="normal" fill="#333" stroke="#333" stroke-width="0.12">0.5</text>
<text x="326.1" y="233.31" font-size="4.6" text-anchor="middle" font-weight="normal" fill="#333" stroke="#333" stroke-width="0.12">1.0</text>
<line x1="253.5" y1="186.45" x2="329.73" y2="186.45" stroke="#111" stroke-width="0.7" stroke-linecap="butt" stroke-dasharray="0.85,0.85"/>
<text x="290.3" y="242.75" font-size="7.0" text-anchor="middle" font-weight="bold" fill="#1e1e1e" textLength="6" lengthAdjust="spacingAndGlyphs" stroke="#1e1e1e" stroke-width="0.15">Fa</text>
<text transform="translate(240.09 185.2) rotate(-90)" x="0" y="0" font-size="5.4" text-anchor="middle" font-weight="bold" fill="#1e1e1e" textLength="51.5" lengthAdjust="spacingAndGlyphs" stroke="#1e1e1e" stroke-width="0.12">Combination index (CI)</text>
<text x="291.2" y="141.76" font-size="5.9" text-anchor="middle" font-weight="normal" fill="#2a2a2a" stroke="#2a2a2a" stroke-width="0.12">THP-1</text>
<text x="290.3" y="252.39" font-size="5.4" text-anchor="middle" font-weight="normal" fill="#333" textLength="18.3" lengthAdjust="spacingAndGlyphs" stroke="#333" stroke-width="0.12">CI = 0.9</text>
<circle cx="274" cy="171.7" r="1.75" fill="#133659" stroke="none" stroke-width="0"/>
<circle cx="282.6" cy="186.4" r="1.75" fill="#133659" stroke="none" stroke-width="0"/>
<circle cx="299.2" cy="201.5" r="1.75" fill="#133659" stroke="none" stroke-width="0"/>
<circle cx="310.6" cy="201.5" r="1.75" fill="#133659" stroke="none" stroke-width="0"/>
<circle cx="315" cy="190.1" r="1.75" fill="#133659" stroke="none" stroke-width="0"/>
<line x1="362.2" y1="147.3" x2="362.2" y2="224.5" stroke="#1a1a1a" stroke-width="0.85" stroke-linecap="butt"/>
<line x1="360.2" y1="224.1" x2="362.2" y2="224.1" stroke="#1a1a1a" stroke-width="0.6" stroke-linecap="butt"/>
<text x="355.9" y="225.71" font-size="4.6" text-anchor="middle" font-weight="normal" fill="#333" stroke="#333" stroke-width="0.12">0</text>
<line x1="360.2" y1="186.45" x2="362.2" y2="186.45" stroke="#1a1a1a" stroke-width="0.6" stroke-linecap="butt"/>
<text x="355.9" y="188.06" font-size="4.6" text-anchor="middle" font-weight="normal" fill="#333" stroke="#333" stroke-width="0.12">1</text>
<line x1="360.2" y1="148.8" x2="362.2" y2="148.8" stroke="#1a1a1a" stroke-width="0.6" stroke-linecap="butt"/>
<text x="355.9" y="150.41" font-size="4.6" text-anchor="middle" font-weight="normal" fill="#333" stroke="#333" stroke-width="0.12">2</text>
<line x1="361.8" y1="224.1" x2="436.67" y2="224.1" stroke="#111" stroke-width="1.0" stroke-linecap="butt"/>
<line x1="362.2" y1="224.1" x2="362.2" y2="225.8" stroke="#111" stroke-width="0.6" stroke-linecap="butt"/>
<line x1="365.81" y1="224.1" x2="365.81" y2="225.8" stroke="#111" stroke-width="0.6" stroke-linecap="butt"/>
<line x1="369.43" y1="224.1" x2="369.43" y2="225.8" stroke="#111" stroke-width="0.6" stroke-linecap="butt"/>
<line x1="373.05" y1="224.1" x2="373.05" y2="225.8" stroke="#111" stroke-width="0.6" stroke-linecap="butt"/>
<line x1="376.66" y1="224.1" x2="376.66" y2="225.8" stroke="#111" stroke-width="0.6" stroke-linecap="butt"/>
<line x1="380.27" y1="224.1" x2="380.27" y2="225.8" stroke="#111" stroke-width="0.6" stroke-linecap="butt"/>
<line x1="383.89" y1="224.1" x2="383.89" y2="225.8" stroke="#111" stroke-width="0.6" stroke-linecap="butt"/>
<line x1="387.5" y1="224.1" x2="387.5" y2="225.8" stroke="#111" stroke-width="0.6" stroke-linecap="butt"/>
<line x1="391.12" y1="224.1" x2="391.12" y2="225.8" stroke="#111" stroke-width="0.6" stroke-linecap="butt"/>
<line x1="394.74" y1="224.1" x2="394.74" y2="225.8" stroke="#111" stroke-width="0.6" stroke-linecap="butt"/>
<line x1="398.35" y1="224.1" x2="398.35" y2="225.8" stroke="#111" stroke-width="0.6" stroke-linecap="butt"/>
<line x1="401.96" y1="224.1" x2="401.96" y2="225.8" stroke="#111" stroke-width="0.6" stroke-linecap="butt"/>
<line x1="405.58" y1="224.1" x2="405.58" y2="225.8" stroke="#111" stroke-width="0.6" stroke-linecap="butt"/>
<line x1="409.19" y1="224.1" x2="409.19" y2="225.8" stroke="#111" stroke-width="0.6" stroke-linecap="butt"/>
<line x1="412.81" y1="224.1" x2="412.81" y2="225.8" stroke="#111" stroke-width="0.6" stroke-linecap="butt"/>
<line x1="416.43" y1="224.1" x2="416.43" y2="225.8" stroke="#111" stroke-width="0.6" stroke-linecap="butt"/>
<line x1="420.04" y1="224.1" x2="420.04" y2="225.8" stroke="#111" stroke-width="0.6" stroke-linecap="butt"/>
<line x1="423.65" y1="224.1" x2="423.65" y2="225.8" stroke="#111" stroke-width="0.6" stroke-linecap="butt"/>
<line x1="427.27" y1="224.1" x2="427.27" y2="225.8" stroke="#111" stroke-width="0.6" stroke-linecap="butt"/>
<line x1="430.88" y1="224.1" x2="430.88" y2="225.8" stroke="#111" stroke-width="0.6" stroke-linecap="butt"/>
<line x1="434.5" y1="224.1" x2="434.5" y2="225.8" stroke="#111" stroke-width="0.6" stroke-linecap="butt"/>
<text x="362.2" y="233.31" font-size="4.6" text-anchor="middle" font-weight="normal" fill="#333" stroke="#333" stroke-width="0.12">0.0</text>
<text x="398.35" y="233.31" font-size="4.6" text-anchor="middle" font-weight="normal" fill="#333" stroke="#333" stroke-width="0.12">0.5</text>
<text x="434.5" y="233.31" font-size="4.6" text-anchor="middle" font-weight="normal" fill="#333" stroke="#333" stroke-width="0.12">1.0</text>
<line x1="362.2" y1="186.45" x2="438.12" y2="186.45" stroke="#111" stroke-width="0.7" stroke-linecap="butt" stroke-dasharray="0.85,0.85"/>
<text x="398.85" y="242.75" font-size="7.0" text-anchor="middle" font-weight="bold" fill="#1e1e1e" textLength="6" lengthAdjust="spacingAndGlyphs" stroke="#1e1e1e" stroke-width="0.15">Fa</text>
<text transform="translate(348.79 185.2) rotate(-90)" x="0" y="0" font-size="5.4" text-anchor="middle" font-weight="bold" fill="#1e1e1e" textLength="51.5" lengthAdjust="spacingAndGlyphs" stroke="#1e1e1e" stroke-width="0.12">Combination index (CI)</text>
<text x="399.6" y="141.76" font-size="5.9" text-anchor="middle" font-weight="normal" fill="#2a2a2a" stroke="#2a2a2a" stroke-width="0.12">MV4-11</text>
<text x="398.85" y="252.39" font-size="5.4" text-anchor="middle" font-weight="normal" fill="#333" textLength="18.3" lengthAdjust="spacingAndGlyphs" stroke="#333" stroke-width="0.12">CI = 0.9</text>
<circle cx="390" cy="178.9" r="1.75" fill="#133659" stroke="none" stroke-width="0"/>
<circle cx="391.3" cy="190.3" r="1.75" fill="#133659" stroke="none" stroke-width="0"/>
<circle cx="398" cy="182.6" r="1.75" fill="#133659" stroke="none" stroke-width="0"/>
<circle cx="411.4" cy="197.6" r="1.75" fill="#133659" stroke="none" stroke-width="0"/>
<circle cx="425.8" cy="212.5" r="1.75" fill="#133659" stroke="none" stroke-width="0"/>
<text x="68.1" y="290.65" font-size="5" text-anchor="middle" font-weight="normal" fill="#333" stroke="#333" stroke-width="0.12">KOPN-8</text>
<line x1="35" y1="294.3" x2="101.3" y2="294.3" stroke="#111" stroke-width="0.85" stroke-linecap="butt"/>
<text x="33.7" y="304.36" font-size="5.3" text-anchor="end" font-weight="normal" fill="#222" textLength="16.3" lengthAdjust="spacingAndGlyphs" stroke="#222" stroke-width="0.12">MI-463</text>
<line x1="39.6" y1="302.5" x2="42" y2="302.5" stroke="#333" stroke-width="0.65" stroke-linecap="butt"/>
<line x1="49.9" y1="302.5" x2="52.7" y2="302.5" stroke="#1a1a1a" stroke-width="0.8" stroke-linecap="butt"/>
<line x1="51.3" y1="301.1" x2="51.3" y2="303.9" stroke="#1a1a1a" stroke-width="0.8" stroke-linecap="butt"/>
<line x1="60.7" y1="302.5" x2="63.1" y2="302.5" stroke="#333" stroke-width="0.65" stroke-linecap="butt"/>
<line x1="71.3" y1="302.5" x2="73.7" y2="302.5" stroke="#333" stroke-width="0.65" stroke-linecap="butt"/>
<line x1="81.9" y1="302.5" x2="84.3" y2="302.5" stroke="#333" stroke-width="0.65" stroke-linecap="butt"/>
<line x1="92.6" y1="302.5" x2="95.4" y2="302.5" stroke="#1a1a1a" stroke-width="0.8" stroke-linecap="butt"/>
<line x1="94" y1="301.1" x2="94" y2="303.9" stroke="#1a1a1a" stroke-width="0.8" stroke-linecap="butt"/>
<text x="33.7" y="312.56" font-size="5.3" text-anchor="end" font-weight="normal" fill="#222" textLength="22.3" lengthAdjust="spacingAndGlyphs" stroke="#222" stroke-width="0.12">Entociclib</text>
<line x1="39.6" y1="310.7" x2="42" y2="310.7" stroke="#333" stroke-width="0.65" stroke-linecap="butt"/>
<line x1="50.1" y1="310.7" x2="52.5" y2="310.7" stroke="#333" stroke-width="0.65" stroke-linecap="butt"/>
<line x1="60.7" y1="310.7" x2="63.1" y2="310.7" stroke="#333" stroke-width="0.65" stroke-linecap="butt"/>
<line x1="71.1" y1="310.7" x2="73.9" y2="310.7" stroke="#1a1a1a" stroke-width="0.8" stroke-linecap="butt"/>
<line x1="72.5" y1="309.3" x2="72.5" y2="312.1" stroke="#1a1a1a" stroke-width="0.8" stroke-linecap="butt"/>
<line x1="81.9" y1="310.7" x2="84.3" y2="310.7" stroke="#333" stroke-width="0.65" stroke-linecap="butt"/>
<line x1="92.6" y1="310.7" x2="95.4" y2="310.7" stroke="#1a1a1a" stroke-width="0.8" stroke-linecap="butt"/>
<line x1="94" y1="309.3" x2="94" y2="312.1" stroke="#1a1a1a" stroke-width="0.8" stroke-linecap="butt"/>
<text x="33.7" y="321.06" font-size="5.3" text-anchor="end" font-weight="normal" fill="#222" textLength="16.3" lengthAdjust="spacingAndGlyphs" stroke="#222" stroke-width="0.12">Control</text>
<line x1="39.4" y1="319.2" x2="42.2" y2="319.2" stroke="#1a1a1a" stroke-width="0.8" stroke-linecap="butt"/>
<line x1="40.8" y1="317.8" x2="40.8" y2="320.6" stroke="#1a1a1a" stroke-width="0.8" stroke-linecap="butt"/>
<line x1="50.1" y1="319.2" x2="52.5" y2="319.2" stroke="#333" stroke-width="0.65" stroke-linecap="butt"/>
<line x1="60.5" y1="319.2" x2="63.3" y2="319.2" stroke="#1a1a1a" stroke-width="0.8" stroke-linecap="butt"/>
<line x1="61.9" y1="317.8" x2="61.9" y2="320.6" stroke="#1a1a1a" stroke-width="0.8" stroke-linecap="butt"/>
<line x1="71.3" y1="319.2" x2="73.7" y2="319.2" stroke="#333" stroke-width="0.65" stroke-linecap="butt"/>
<line x1="81.7" y1="319.2" x2="84.5" y2="319.2" stroke="#1a1a1a" stroke-width="0.8" stroke-linecap="butt"/>
<line x1="83.1" y1="317.8" x2="83.1" y2="320.6" stroke="#1a1a1a" stroke-width="0.8" stroke-linecap="butt"/>
<line x1="92.8" y1="319.2" x2="95.2" y2="319.2" stroke="#333" stroke-width="0.65" stroke-linecap="butt"/>
<rect x="33.6" y="325.4" width="68.7" height="12.5" fill="#dadada" stroke="#6e6e6e" stroke-width="0.8" rx="0"/>
<rect x="33.6" y="340.7" width="68.7" height="12.6" fill="#e6e6e6" stroke="#6e6e6e" stroke-width="0.8" rx="0"/>
<rect x="35.6" y="329.8" width="8.6" height="5.2" rx="1.9" fill="#0d0d0d" opacity="1"/>
<rect x="47.4" y="331.1" width="7.4" height="2.8" rx="1.4" fill="#0d0d0d" opacity="0.8"/>
<rect x="57.5" y="329.55" width="8.8" height="5.3" rx="1.9" fill="#0d0d0d" opacity="1"/>
<rect x="69.1" y="330.5" width="7.8" height="3.8" rx="1.9" fill="#0d0d0d" opacity="0.95"/>
<rect x="80.1" y="329.8" width="7.8" height="4.4" rx="1.9" fill="#0d0d0d" opacity="1"/>
<rect x="93.1" y="330.8" width="6" height="3.2" rx="1.6" fill="#0d0d0d" opacity="0.18"/>
<rect x="35.2" y="344.85" width="9.8" height="4.1" rx="1.9" fill="#0d0d0d" opacity="1"/>
<rect x="45.8" y="345.35" width="9.8" height="3.9" rx="1.9" fill="#0d0d0d" opacity="1" transform="rotate(4 50.7 347.3)"/>
<rect x="57" y="345.3" width="9.8" height="4" rx="1.9" fill="#0d0d0d" opacity="1"/>
<rect x="68.2" y="345.7" width="9.8" height="3.8" rx="1.9" fill="#0d0d0d" opacity="1" transform="rotate(3 73.1 347.6)"/>
<rect x="79.4" y="345.3" width="10.2" height="4" rx="1.9" fill="#0d0d0d" opacity="1"/>
<rect x="91" y="345.9" width="9.6" height="3.6" rx="1.8" fill="#0d0d0d" opacity="0.95" transform="rotate(3 95.8 347.7)"/>
<text x="106" y="334.82" font-size="5.2" text-anchor="start" font-weight="normal" fill="#222" textLength="17.5" lengthAdjust="spacingAndGlyphs" stroke="#222" stroke-width="0.12">HOXA9</text>
<text x="106" y="349.32" font-size="5.2" text-anchor="start" font-weight="normal" fill="#222" textLength="14.2" lengthAdjust="spacingAndGlyphs" stroke="#222" stroke-width="0.12">ACTIN</text>
<text x="194.4" y="290.65" font-size="5" text-anchor="middle" font-weight="normal" fill="#333" stroke="#333" stroke-width="0.12">INL2</text>
<line x1="161.2" y1="294.3" x2="227.1" y2="294.3" stroke="#111" stroke-width="0.85" stroke-linecap="butt"/>
<text x="160" y="304.36" font-size="5.3" text-anchor="end" font-weight="normal" fill="#222" textLength="16.3" lengthAdjust="spacingAndGlyphs" stroke="#222" stroke-width="0.12">MI-463</text>
<line x1="165.8" y1="302.5" x2="168.2" y2="302.5" stroke="#333" stroke-width="0.65" stroke-linecap="butt"/>
<line x1="176.4" y1="302.5" x2="179.2" y2="302.5" stroke="#1a1a1a" stroke-width="0.8" stroke-linecap="butt"/>
<line x1="177.8" y1="301.1" x2="177.8" y2="303.9" stroke="#1a1a1a" stroke-width="0.8" stroke-linecap="butt"/>
<line x1="187" y1="302.5" x2="189.4" y2="302.5" stroke="#333" stroke-width="0.65" stroke-linecap="butt"/>
<line x1="197.8" y1="302.5" x2="200.2" y2="302.5" stroke="#333" stroke-width="0.65" stroke-linecap="butt"/>
<line x1="208.5" y1="302.5" x2="210.9" y2="302.5" stroke="#333" stroke-width="0.65" stroke-linecap="butt"/>
<line x1="219.3" y1="302.5" x2="222.1" y2="302.5" stroke="#1a1a1a" stroke-width="0.8" stroke-linecap="butt"/>
<line x1="220.7" y1="301.1" x2="220.7" y2="303.9" stroke="#1a1a1a" stroke-width="0.8" stroke-linecap="butt"/>
<text x="160" y="312.56" font-size="5.3" text-anchor="end" font-weight="normal" fill="#222" textLength="22.3" lengthAdjust="spacingAndGlyphs" stroke="#222" stroke-width="0.12">Entociclib</text>
<line x1="165.8" y1="310.7" x2="168.2" y2="310.7" stroke="#333" stroke-width="0.65" stroke-linecap="butt"/>
<line x1="176.6" y1="310.7" x2="179" y2="310.7" stroke="#333" stroke-width="0.65" stroke-linecap="butt"/>
<line x1="187" y1="310.7" x2="189.4" y2="310.7" stroke="#333" stroke-width="0.65" stroke-linecap="butt"/>
<line x1="197.6" y1="310.7" x2="200.4" y2="310.7" stroke="#1a1a1a" stroke-width="0.8" stroke-linecap="butt"/>
<line x1="199" y1="309.3" x2="199" y2="312.1" stroke="#1a1a1a" stroke-width="0.8" stroke-linecap="butt"/>
<line x1="208.5" y1="310.7" x2="210.9" y2="310.7" stroke="#333" stroke-width="0.65" stroke-linecap="butt"/>
<line x1="219.3" y1="310.7" x2="222.1" y2="310.7" stroke="#1a1a1a" stroke-width="0.8" stroke-linecap="butt"/>
<line x1="220.7" y1="309.3" x2="220.7" y2="312.1" stroke="#1a1a1a" stroke-width="0.8" stroke-linecap="butt"/>
<text x="160" y="321.06" font-size="5.3" text-anchor="end" font-weight="normal" fill="#222" textLength="16.3" lengthAdjust="spacingAndGlyphs" stroke="#222" stroke-width="0.12">Control</text>
<line x1="165.6" y1="319.2" x2="168.4" y2="319.2" stroke="#1a1a1a" stroke-width="0.8" stroke-linecap="butt"/>
<line x1="167" y1="317.8" x2="167" y2="320.6" stroke="#1a1a1a" stroke-width="0.8" stroke-linecap="butt"/>
<line x1="176.6" y1="319.2" x2="179" y2="319.2" stroke="#333" stroke-width="0.65" stroke-linecap="butt"/>
<line x1="186.8" y1="319.2" x2="189.6" y2="319.2" stroke="#1a1a1a" stroke-width="0.8" stroke-linecap="butt"/>
<line x1="188.2" y1="317.8" x2="188.2" y2="320.6" stroke="#1a1a1a" stroke-width="0.8" stroke-linecap="butt"/>
<line x1="197.8" y1="319.2" x2="200.2" y2="319.2" stroke="#333" stroke-width="0.65" stroke-linecap="butt"/>
<line x1="208.3" y1="319.2" x2="211.1" y2="319.2" stroke="#1a1a1a" stroke-width="0.8" stroke-linecap="butt"/>
<line x1="209.7" y1="317.8" x2="209.7" y2="320.6" stroke="#1a1a1a" stroke-width="0.8" stroke-linecap="butt"/>
<line x1="219.5" y1="319.2" x2="221.9" y2="319.2" stroke="#333" stroke-width="0.65" stroke-linecap="butt"/>
<rect x="160.1" y="325.4" width="68.3" height="12.5" fill="#d4d4d4" stroke="#6e6e6e" stroke-width="0.8" rx="0"/>
<rect x="160.1" y="340.7" width="68.3" height="12.6" fill="#e2e2e2" stroke="#6e6e6e" stroke-width="0.8" rx="0"/>
<rect x="162.3" y="329.9" width="8" height="4.2" rx="1.9" fill="#0d0d0d" opacity="0.95"/>
<rect x="173" y="330.3" width="8.2" height="4.2" rx="1.9" fill="#0d0d0d" opacity="0.95"/>
<rect x="183.6" y="329.95" width="8" height="3.9" rx="1.9" fill="#0d0d0d" opacity="0.95"/>
<rect x="195.6" y="330.3" width="6.8" height="2.6" rx="1.3" fill="#0d0d0d" opacity="0.25"/>
<rect x="205.5" y="329.4" width="8" height="4" rx="1.9" fill="#0d0d0d" opacity="1"/>
<rect x="217.5" y="330.6" width="6" height="2.8" rx="1.4" fill="#0d0d0d" opacity="0.05"/>
<rect x="162.7" y="346.55" width="10" height="2.9" rx="1.45" fill="#0d0d0d" opacity="0.95"/>
<rect x="173" y="346.85" width="10.4" height="2.9" rx="1.45" fill="#0d0d0d" opacity="0.95"/>
<rect x="183.1" y="346.65" width="10" height="2.9" rx="1.45" fill="#0d0d0d" opacity="0.95"/>
<rect x="193.9" y="346.7" width="9.2" height="2.8" rx="1.4" fill="#0d0d0d" opacity="0.95"/>
<rect x="203.6" y="346.55" width="10" height="2.9" rx="1.45" fill="#0d0d0d" opacity="0.95"/>
<rect x="214.5" y="346.95" width="11.2" height="2.7" rx="1.35" fill="#0d0d0d" opacity="0.95"/>
<text x="231.5" y="334.82" font-size="5.2" text-anchor="start" font-weight="normal" fill="#222" textLength="17.5" lengthAdjust="spacingAndGlyphs" stroke="#222" stroke-width="0.12">HOXA9</text>
<text x="231.5" y="349.32" font-size="5.2" text-anchor="start" font-weight="normal" fill="#222" textLength="14.2" lengthAdjust="spacingAndGlyphs" stroke="#222" stroke-width="0.12">ACTIN</text>
<line x1="301.7" y1="292.6" x2="301.7" y2="385.7" stroke="#1a1a1a" stroke-width="0.9" stroke-linecap="butt"/>
<line x1="299.7" y1="385.3" x2="301.7" y2="385.3" stroke="#1a1a1a" stroke-width="0.7" stroke-linecap="butt"/>
<text x="296.3" y="386.98" font-size="4.8" text-anchor="end" font-weight="normal" fill="#333" stroke="#333" stroke-width="0.12">0.0</text>
<line x1="299.7" y1="355.25" x2="301.7" y2="355.25" stroke="#1a1a1a" stroke-width="0.7" stroke-linecap="butt"/>
<text x="296.3" y="356.93" font-size="4.8" text-anchor="end" font-weight="normal" fill="#333" stroke="#333" stroke-width="0.12">0.5</text>
<line x1="299.7" y1="325.2" x2="301.7" y2="325.2" stroke="#1a1a1a" stroke-width="0.7" stroke-linecap="butt"/>
<text x="296.3" y="326.88" font-size="4.8" text-anchor="end" font-weight="normal" fill="#333" stroke="#333" stroke-width="0.12">1.0</text>
<line x1="299.7" y1="295.15" x2="301.7" y2="295.15" stroke="#1a1a1a" stroke-width="0.7" stroke-linecap="butt"/>
<text x="296.3" y="296.83" font-size="4.8" text-anchor="end" font-weight="normal" fill="#333" stroke="#333" stroke-width="0.12">1.5</text>
<rect x="305.85" y="342.63" width="6.7" height="42.67" fill="#8ed0ee" stroke="none" stroke-width="0" rx="0"/>
<rect x="314.75" y="355.25" width="6.7" height="30.05" fill="#e57885" stroke="none" stroke-width="0" rx="0"/>
<rect x="323.75" y="323.4" width="6.7" height="61.9" fill="#8ed0ee" stroke="none" stroke-width="0" rx="0"/>
<rect x="332.85" y="338.42" width="6.7" height="46.88" fill="#7fa0c2" stroke="none" stroke-width="0" rx="0"/>
<rect x="341.85" y="329.11" width="6.7" height="56.19" fill="#8ed0ee" stroke="none" stroke-width="0" rx="0"/>
<rect x="350.75" y="373.88" width="6.7" height="11.42" fill="#b49bd0" stroke="none" stroke-width="0" rx="0"/>
<line x1="309.2" y1="339.62" x2="309.2" y2="345.63" stroke="#132636" stroke-width="0.8" stroke-linecap="butt"/>
<line x1="307.7" y1="339.62" x2="310.7" y2="339.62" stroke="#132636" stroke-width="0.8" stroke-linecap="butt"/>
<line x1="307.7" y1="345.63" x2="310.7" y2="345.63" stroke="#132636" stroke-width="0.8" stroke-linecap="butt"/>
<circle cx="309.2" cy="335.42" r="1.4" fill="#3b9cc4" stroke="none" stroke-width="0"/>
<circle cx="309.2" cy="339.02" r="1.4" fill="#3b9cc4" stroke="none" stroke-width="0"/>
<circle cx="309.2" cy="349.24" r="1.4" fill="#3b9cc4" stroke="none" stroke-width="0"/>
<line x1="318.1" y1="350.44" x2="318.1" y2="360.06" stroke="#6e1422" stroke-width="0.8" stroke-linecap="butt"/>
<line x1="316.6" y1="350.44" x2="319.6" y2="350.44" stroke="#6e1422" stroke-width="0.8" stroke-linecap="butt"/>
<line x1="316.6" y1="360.06" x2="319.6" y2="360.06" stroke="#6e1422" stroke-width="0.8" stroke-linecap="butt"/>
<circle cx="318.1" cy="345.03" r="1.4" fill="#c21d36" stroke="none" stroke-width="0"/>
<circle cx="318.1" cy="357.65" r="1.4" fill="#c21d36" stroke="none" stroke-width="0"/>
<circle cx="318.1" cy="361.26" r="1.4" fill="#c21d36" stroke="none" stroke-width="0"/>
<line x1="327.1" y1="313.18" x2="327.1" y2="333.61" stroke="#132636" stroke-width="0.8" stroke-linecap="butt"/>
<line x1="325.6" y1="313.18" x2="328.6" y2="313.18" stroke="#132636" stroke-width="0.8" stroke-linecap="butt"/>
<line x1="325.6" y1="333.61" x2="328.6" y2="333.61" stroke="#132636" stroke-width="0.8" stroke-linecap="butt"/>
<circle cx="327.1" cy="304.17" r="1.4" fill="#3b9cc4" stroke="none" stroke-width="0"/>
<circle cx="327.1" cy="331.21" r="1.4" fill="#3b9cc4" stroke="none" stroke-width="0"/>
<circle cx="327.1" cy="334.82" r="1.4" fill="#3b9cc4" stroke="none" stroke-width="0"/>
<line x1="336.2" y1="330.61" x2="336.2" y2="346.24" stroke="#132636" stroke-width="0.8" stroke-linecap="butt"/>
<line x1="334.7" y1="330.61" x2="337.7" y2="330.61" stroke="#132636" stroke-width="0.8" stroke-linecap="butt"/>
<line x1="334.7" y1="346.24" x2="337.7" y2="346.24" stroke="#132636" stroke-width="0.8" stroke-linecap="butt"/>
<circle cx="336.2" cy="325.2" r="1.4" fill="#163c5f" stroke="none" stroke-width="0"/>
<circle cx="336.2" cy="337.22" r="1.4" fill="#163c5f" stroke="none" stroke-width="0"/>
<circle cx="336.2" cy="352.85" r="1.4" fill="#163c5f" stroke="none" stroke-width="0"/>
<line x1="345.2" y1="315.58" x2="345.2" y2="342.03" stroke="#132636" stroke-width="0.8" stroke-linecap="butt"/>
<line x1="343.7" y1="315.58" x2="346.7" y2="315.58" stroke="#132636" stroke-width="0.8" stroke-linecap="butt"/>
<line x1="343.7" y1="342.03" x2="346.7" y2="342.03" stroke="#132636" stroke-width="0.8" stroke-linecap="butt"/>
<circle cx="345.2" cy="302.96" r="1.4" fill="#3b9cc4" stroke="none" stroke-width="0"/>
<circle cx="345.2" cy="340.83" r="1.4" fill="#3b9cc4" stroke="none" stroke-width="0"/>
<circle cx="345.2" cy="343.23" r="1.4" fill="#3b9cc4" stroke="none" stroke-width="0"/>
<line x1="354.1" y1="368.47" x2="354.1" y2="378.69" stroke="#2e1846" stroke-width="0.8" stroke-linecap="butt"/>
<line x1="352.6" y1="368.47" x2="355.6" y2="368.47" stroke="#2e1846" stroke-width="0.8" stroke-linecap="butt"/>
<line x1="352.6" y1="378.69" x2="355.6" y2="378.69" stroke="#2e1846" stroke-width="0.8" stroke-linecap="butt"/>
<circle cx="354.1" cy="367.27" r="1.4" fill="#3b1f57" stroke="none" stroke-width="0"/>
<circle cx="354.1" cy="372.08" r="1.4" fill="#3b1f57" stroke="none" stroke-width="0"/>
<circle cx="354.1" cy="376.89" r="1.4" fill="#3b1f57" stroke="none" stroke-width="0"/>
<circle cx="354.1" cy="381.09" r="1.4" fill="#3b1f57" stroke="none" stroke-width="0"/>
<line x1="301.3" y1="385.3" x2="361" y2="385.3" stroke="#111" stroke-width="1.1" stroke-linecap="butt"/>
<polyline points="343.8,298.5 343.8,294.9 354.6,294.9 354.6,298.5" fill="none" stroke="#2a2a2a" stroke-width="0.8" stroke-linejoin="round"/>
<text x="349.2" y="295.03" font-size="4.6" text-anchor="middle" font-weight="normal" fill="#222" stroke="#222" stroke-width="0.12">*</text>
<text x="331.7" y="282.1" font-size="6.0" text-anchor="middle" font-weight="normal" fill="#2a2a2a" stroke="#2a2a2a" stroke-width="0.12">KOPN-8</text>
<text transform="translate(275.3 335.2) rotate(-90)" x="0" y="0" font-size="6.0" text-anchor="middle" font-weight="bold" fill="#1a1a1a" textLength="63" lengthAdjust="spacingAndGlyphs" stroke="#1a1a1a" stroke-width="0.12">Relative protein levels of HOXA9</text>
<text transform="translate(283.7 335.2) rotate(-90)" x="0" y="0" font-size="6.0" text-anchor="middle" font-weight="bold" fill="#1a1a1a" textLength="37" lengthAdjust="spacingAndGlyphs" stroke="#1a1a1a" stroke-width="0.12">normalized to actin</text>
<circle cx="295.8" cy="393.8" r="1.55" fill="#3b9cc4" stroke="none" stroke-width="0"/>
<text x="299.9" y="395.69" font-size="5.4" text-anchor="start" font-weight="normal" fill="#222" textLength="15.3" lengthAdjust="spacingAndGlyphs" stroke="#222" stroke-width="0.12">DMSO</text>
<circle cx="320.3" cy="393.8" r="1.55" fill="#163c5f" stroke="none" stroke-width="0"/>
<text x="324.4" y="395.69" font-size="5.4" text-anchor="start" font-weight="normal" fill="#222" textLength="23.7" lengthAdjust="spacingAndGlyphs" stroke="#222" stroke-width="0.12">Entociclib</text>
<circle cx="295.8" cy="402.7" r="1.55" fill="#c21d36" stroke="none" stroke-width="0"/>
<text x="299.9" y="404.59" font-size="5.4" text-anchor="start" font-weight="normal" fill="#222" textLength="15.3" lengthAdjust="spacingAndGlyphs" stroke="#222" stroke-width="0.12">MI-463</text>
<circle cx="320.3" cy="402.7" r="1.55" fill="#3b1f57" stroke="none" stroke-width="0"/>
<text x="324.4" y="404.59" font-size="5.4" text-anchor="start" font-weight="normal" fill="#222" textLength="44" lengthAdjust="spacingAndGlyphs" stroke="#222" stroke-width="0.12">MI-463 + Entociclib</text>
<line x1="415.8" y1="292.6" x2="415.8" y2="386" stroke="#1a1a1a" stroke-width="0.9" stroke-linecap="butt"/>
<line x1="413.8" y1="385.6" x2="415.8" y2="385.6" stroke="#1a1a1a" stroke-width="0.7" stroke-linecap="butt"/>
<text x="410.4" y="387.28" font-size="4.8" text-anchor="end" font-weight="normal" fill="#333" stroke="#333" stroke-width="0.12">0</text>
<line x1="413.8" y1="362.9" x2="415.8" y2="362.9" stroke="#1a1a1a" stroke-width="0.7" stroke-linecap="butt"/>
<text x="410.4" y="364.58" font-size="4.8" text-anchor="end" font-weight="normal" fill="#333" stroke="#333" stroke-width="0.12">1</text>
<line x1="413.8" y1="340.2" x2="415.8" y2="340.2" stroke="#1a1a1a" stroke-width="0.7" stroke-linecap="butt"/>
<text x="410.4" y="341.88" font-size="4.8" text-anchor="end" font-weight="normal" fill="#333" stroke="#333" stroke-width="0.12">2</text>
<line x1="413.8" y1="317.5" x2="415.8" y2="317.5" stroke="#1a1a1a" stroke-width="0.7" stroke-linecap="butt"/>
<text x="410.4" y="319.18" font-size="4.8" text-anchor="end" font-weight="normal" fill="#333" stroke="#333" stroke-width="0.12">3</text>
<line x1="413.8" y1="294.8" x2="415.8" y2="294.8" stroke="#1a1a1a" stroke-width="0.7" stroke-linecap="butt"/>
<text x="410.4" y="296.48" font-size="4.8" text-anchor="end" font-weight="normal" fill="#333" stroke="#333" stroke-width="0.12">4</text>
<rect x="420.15" y="343.38" width="6.7" height="42.22" fill="#8ed0ee" stroke="none" stroke-width="0" rx="0"/>
<rect x="428.95" y="338.84" width="6.7" height="46.76" fill="#e57885" stroke="none" stroke-width="0" rx="0"/>
<rect x="437.85" y="337.93" width="6.7" height="47.67" fill="#8ed0ee" stroke="none" stroke-width="0" rx="0"/>
<rect x="446.85" y="371.75" width="6.7" height="13.85" fill="#7fa0c2" stroke="none" stroke-width="0" rx="0"/>
<rect x="455.95" y="344.29" width="6.7" height="41.31" fill="#8ed0ee" stroke="none" stroke-width="0" rx="0"/>
<line x1="423.5" y1="333.39" x2="423.5" y2="351.55" stroke="#132636" stroke-width="0.8" stroke-linecap="butt"/>
<line x1="422" y1="333.39" x2="425" y2="333.39" stroke="#132636" stroke-width="0.8" stroke-linecap="butt"/>
<line x1="422" y1="351.55" x2="425" y2="351.55" stroke="#132636" stroke-width="0.8" stroke-linecap="butt"/>
<circle cx="423.5" cy="333.39" r="1.4" fill="#3b9cc4" stroke="none" stroke-width="0"/>
<circle cx="423.5" cy="351.55" r="1.4" fill="#3b9cc4" stroke="none" stroke-width="0"/>
<line x1="432.3" y1="317.5" x2="432.3" y2="360.18" stroke="#6e1422" stroke-width="0.8" stroke-linecap="butt"/>
<line x1="430.8" y1="317.5" x2="433.8" y2="317.5" stroke="#6e1422" stroke-width="0.8" stroke-linecap="butt"/>
<line x1="430.8" y1="360.18" x2="433.8" y2="360.18" stroke="#6e1422" stroke-width="0.8" stroke-linecap="butt"/>
<circle cx="432.3" cy="317.5" r="1.4" fill="#c21d36" stroke="none" stroke-width="0"/>
<circle cx="432.3" cy="360.18" r="1.4" fill="#c21d36" stroke="none" stroke-width="0"/>
<line x1="441.2" y1="322.04" x2="441.2" y2="351.1" stroke="#132636" stroke-width="0.8" stroke-linecap="butt"/>
<line x1="439.7" y1="322.04" x2="442.7" y2="322.04" stroke="#132636" stroke-width="0.8" stroke-linecap="butt"/>
<line x1="439.7" y1="351.1" x2="442.7" y2="351.1" stroke="#132636" stroke-width="0.8" stroke-linecap="butt"/>
<circle cx="441.2" cy="322.04" r="1.4" fill="#3b9cc4" stroke="none" stroke-width="0"/>
<circle cx="441.2" cy="351.1" r="1.4" fill="#3b9cc4" stroke="none" stroke-width="0"/>
<line x1="450.2" y1="365.62" x2="450.2" y2="377.2" stroke="#132636" stroke-width="0.8" stroke-linecap="butt"/>
<line x1="448.7" y1="365.62" x2="451.7" y2="365.62" stroke="#132636" stroke-width="0.8" stroke-linecap="butt"/>
<line x1="448.7" y1="377.2" x2="451.7" y2="377.2" stroke="#132636" stroke-width="0.8" stroke-linecap="butt"/>
<circle cx="450.2" cy="365.62" r="1.4" fill="#163c5f" stroke="none" stroke-width="0"/>
<circle cx="450.2" cy="377.2" r="1.4" fill="#163c5f" stroke="none" stroke-width="0"/>
<line x1="459.3" y1="328.85" x2="459.3" y2="358.59" stroke="#132636" stroke-width="0.8" stroke-linecap="butt"/>
<line x1="457.8" y1="328.85" x2="460.8" y2="328.85" stroke="#132636" stroke-width="0.8" stroke-linecap="butt"/>
<line x1="457.8" y1="358.59" x2="460.8" y2="358.59" stroke="#132636" stroke-width="0.8" stroke-linecap="butt"/>
<circle cx="459.3" cy="328.85" r="1.4" fill="#3b9cc4" stroke="none" stroke-width="0"/>
<circle cx="459.3" cy="358.59" r="1.4" fill="#3b9cc4" stroke="none" stroke-width="0"/>
<line x1="468" y1="381.74" x2="468" y2="385.6" stroke="#2e1846" stroke-width="0.8" stroke-linecap="butt"/>
<line x1="466.5" y1="381.74" x2="469.5" y2="381.74" stroke="#2e1846" stroke-width="0.8" stroke-linecap="butt"/>
<circle cx="468" cy="381.74" r="1.4" fill="#3b1f57" stroke="none" stroke-width="0"/>
<circle cx="468" cy="385.6" r="1.4" fill="#3b1f57" stroke="none" stroke-width="0"/>
<line x1="415.4" y1="385.6" x2="475" y2="385.6" stroke="#111" stroke-width="1.1" stroke-linecap="butt"/>
<text x="445.5" y="282.1" font-size="6.0" text-anchor="middle" font-weight="normal" fill="#2a2a2a" stroke="#2a2a2a" stroke-width="0.12">INL2</text>
<text transform="translate(394.5 335.2) rotate(-90)" x="0" y="0" font-size="6.0" text-anchor="middle" font-weight="bold" fill="#1a1a1a" textLength="63" lengthAdjust="spacingAndGlyphs" stroke="#1a1a1a" stroke-width="0.12">Relative protein levels of HOXA9</text>
<text transform="translate(402.5 335.2) rotate(-90)" x="0" y="0" font-size="6.0" text-anchor="middle" font-weight="bold" fill="#1a1a1a" textLength="37" lengthAdjust="spacingAndGlyphs" stroke="#1a1a1a" stroke-width="0.12">normalized to actin</text>
<circle cx="409.5" cy="393.8" r="1.55" fill="#3b9cc4" stroke="none" stroke-width="0"/>
<text x="413.9" y="395.69" font-size="5.4" text-anchor="start" font-weight="normal" fill="#222" textLength="15.3" lengthAdjust="spacingAndGlyphs" stroke="#222" stroke-width="0.12">DMSO</text>
<circle cx="434.9" cy="393.8" r="1.55" fill="#163c5f" stroke="none" stroke-width="0"/>
<text x="439.3" y="395.69" font-size="5.4" text-anchor="start" font-weight="normal" fill="#222" textLength="23.7" lengthAdjust="spacingAndGlyphs" stroke="#222" stroke-width="0.12">Entociclib</text>
<circle cx="409.5" cy="402.7" r="1.55" fill="#c21d36" stroke="none" stroke-width="0"/>
<text x="413.9" y="404.59" font-size="5.4" text-anchor="start" font-weight="normal" fill="#222" textLength="15.3" lengthAdjust="spacingAndGlyphs" stroke="#222" stroke-width="0.12">MI-463</text>
<circle cx="434.9" cy="402.7" r="1.55" fill="#3b1f57" stroke="none" stroke-width="0"/>
<text x="439.3" y="404.59" font-size="5.4" text-anchor="start" font-weight="normal" fill="#222" textLength="44" lengthAdjust="spacingAndGlyphs" stroke="#222" stroke-width="0.12">MI-463 + Entociclib</text>
<rect x="0.5" y="0.5" width="519" height="410" fill="none" stroke="#505050" stroke-width="1.0" rx="0"/>
</g>
</svg>
</body></html>
